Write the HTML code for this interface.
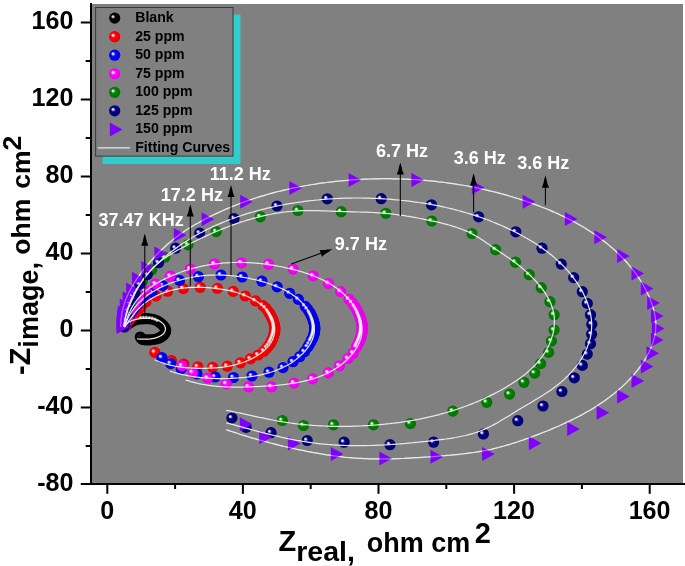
<!DOCTYPE html>
<html lang="en"><head><meta charset="utf-8"><title>Nyquist plot</title>
<style>
html,body{margin:0;padding:0;background:#fff;}
body{width:685px;height:566px;overflow:hidden;}
svg{display:block;}
text{font-family:"Liberation Sans",Arial,Helvetica,sans-serif;font-weight:bold;}
.tk{font-size:26.3px;fill:#000;}
.ti{font-size:29px;fill:#000;}.tj{font-size:26.5px;fill:#000;}
.lg{font-size:15.5px;fill:#000;}
.an{font-size:19px;fill:#fff;}
.ax{stroke:#000;stroke-width:2;fill:none;shape-rendering:crispEdges;}
.fit{stroke:#e9e9e9;stroke-width:1.2;fill:none;}
.ar{stroke:#000;stroke-width:1.05;fill:none;}
</style></head><body>
<svg width="685" height="566" viewBox="0 0 685 566">
<defs>
<radialGradient id="gk" cx="0.5" cy="0.5" r="0.5" fx="0.36" fy="0.38"><stop offset="0" stop-color="#202020"/><stop offset="0.45" stop-color="#000000"/><stop offset="1" stop-color="#000000"/></radialGradient>
<radialGradient id="gr" cx="0.5" cy="0.5" r="0.5" fx="0.36" fy="0.38"><stop offset="0" stop-color="#ff6a6a"/><stop offset="0.45" stop-color="#ff0000"/><stop offset="1" stop-color="#e40000"/></radialGradient>
<radialGradient id="gb" cx="0.5" cy="0.5" r="0.5" fx="0.36" fy="0.38"><stop offset="0" stop-color="#6a6aff"/><stop offset="0.45" stop-color="#0000ff"/><stop offset="1" stop-color="#0000dc"/></radialGradient>
<radialGradient id="gm" cx="0.5" cy="0.5" r="0.5" fx="0.36" fy="0.38"><stop offset="0" stop-color="#ff80ff"/><stop offset="0.45" stop-color="#ff00ff"/><stop offset="1" stop-color="#e400e4"/></radialGradient>
<radialGradient id="gg" cx="0.5" cy="0.5" r="0.5" fx="0.36" fy="0.38"><stop offset="0" stop-color="#50b450"/><stop offset="0.45" stop-color="#008000"/><stop offset="1" stop-color="#007200"/></radialGradient>
<radialGradient id="gn" cx="0.5" cy="0.5" r="0.5" fx="0.36" fy="0.38"><stop offset="0" stop-color="#5a5ac0"/><stop offset="0.45" stop-color="#000080"/><stop offset="1" stop-color="#000072"/></radialGradient>
<radialGradient id="gh" cx="0.5" cy="0.5" r="0.5"><stop offset="0" stop-color="#fff" stop-opacity="1"/><stop offset="0.3" stop-color="#fff" stop-opacity="0.8"/><stop offset="1" stop-color="#fff" stop-opacity="0"/></radialGradient>
<circle id="sk" r="5.6" fill="url(#gk)"/>
<circle id="sr" r="5.6" fill="url(#gr)"/>
<circle id="sb" r="5.6" fill="url(#gb)"/>
<circle id="sm" r="5.6" fill="url(#gm)"/>
<circle id="sg" r="5.6" fill="url(#gg)"/>
<circle id="sn" r="5.6" fill="url(#gn)"/>
<circle id="hl" cx="-1.7" cy="-1.4" r="2.2" fill="url(#gh)"/>
<path id="sp" d="M-6.2 -7 L6.4 0 L-6.2 7 Z" fill="#8000ff"/>
<path id="ah" d="M0 0 L-1.3 4.5 L-2 8 L-3.6 12.2 L3.6 12.2 L2 8 L1.3 4.5 Z" fill="#000"/>
</defs>
<rect x="0" y="0" width="685" height="566" fill="#fff"/>
<rect x="91" y="4" width="592" height="480" fill="#808080"/>
<rect x="102.5" y="14.6" width="138" height="149.4" fill="#33cccc"/>
<rect x="95.6" y="7.5" width="137.4" height="148.6" fill="#808080" stroke="#3a3a3a" stroke-width="1"/>
<g>
<use href="#sk" x="127" y="325"/><use href="#sk" x="128.9" y="323.4"/><use href="#sk" x="131" y="322"/><use href="#sk" x="132.9" y="320.9"/><use href="#sk" x="135" y="320"/><use href="#sk" x="137.2" y="319.4"/><use href="#sk" x="139.5" y="319"/><use href="#sk" x="142.2" y="318.8"/><use href="#sk" x="145" y="318.7"/><use href="#sk" x="148" y="318.7"/><use href="#sk" x="151" y="319"/><use href="#sk" x="153.8" y="319.5"/><use href="#sk" x="156.5" y="320.5"/><use href="#sk" x="158.8" y="321.8"/><use href="#sk" x="161" y="323.5"/><use href="#sk" x="162.8" y="325.1"/><use href="#sk" x="164.3" y="327"/><use href="#sk" x="165.3" y="328.7"/><use href="#sk" x="165.7" y="330.5"/><use href="#sk" x="165.4" y="332.3"/><use href="#sk" x="164.5" y="334"/><use href="#sk" x="162.9" y="335.7"/><use href="#sk" x="161" y="337"/><use href="#sk" x="158.6" y="338.2"/><use href="#sk" x="156" y="339"/><use href="#sk" x="153" y="339.5"/><use href="#sk" x="150" y="339.8"/><use href="#sk" x="147.5" y="339.9"/><use href="#sk" x="145" y="339.8"/><use href="#sk" x="143.1" y="339.5"/><use href="#sk" x="141.5" y="338.8"/><use href="#sk" x="140.3" y="337"/>
<use href="#hl" x="131" y="322"/><use href="#hl" x="132.9" y="320.9"/><use href="#hl" x="135" y="320"/><use href="#hl" x="137.2" y="319.4"/><use href="#hl" x="139.5" y="319"/><use href="#hl" x="142.2" y="318.8"/><use href="#hl" x="145" y="318.7"/><use href="#hl" x="148" y="318.7"/><use href="#hl" x="151" y="319"/><use href="#hl" x="153.8" y="319.5"/><use href="#hl" x="156.5" y="320.5"/><use href="#hl" x="158.8" y="321.8"/>
</g>
<g>
<use href="#sr" x="125" y="327"/><use href="#sr" x="125.4" y="326"/><use href="#sr" x="126" y="325"/><use href="#sr" x="126.5" y="324"/><use href="#sr" x="127.1" y="323"/><use href="#sr" x="127.8" y="322"/><use href="#sr" x="128.5" y="321"/><use href="#sr" x="129.3" y="319.9"/><use href="#sr" x="130.1" y="318.8"/><use href="#sr" x="131" y="317.8"/><use href="#sr" x="132.1" y="316.5"/><use href="#sr" x="133.3" y="315.3"/><use href="#sr" x="134.5" y="314"/><use href="#sr" x="136.5" y="311.8"/><use href="#sr" x="138.5" y="309.5"/><use href="#sr" x="140.1" y="307.5"/><use href="#sr" x="141.8" y="305.6"/><use href="#sr" x="146" y="301.7"/><use href="#sr" x="156" y="296"/><use href="#sr" x="167.7" y="291.2"/><use href="#sr" x="183.4" y="288.6"/><use href="#sr" x="200.2" y="287.3"/><use href="#sr" x="217.4" y="288.4"/><use href="#sr" x="233.3" y="291.4"/><use href="#sr" x="245.2" y="296"/><use href="#sr" x="255.4" y="300.8"/><use href="#sr" x="263" y="305.6"/><use href="#sr" x="265.7" y="308.1"/><use href="#sr" x="268" y="311"/><use href="#sr" x="269.1" y="312.7"/><use href="#sr" x="270.2" y="314.4"/><use href="#sr" x="271.1" y="316.2"/><use href="#sr" x="272" y="318"/><use href="#sr" x="272.7" y="319.6"/><use href="#sr" x="273.4" y="321.2"/><use href="#sr" x="273.9" y="322.9"/><use href="#sr" x="274.4" y="324.6"/><use href="#sr" x="274.7" y="326.3"/><use href="#sr" x="274.9" y="328"/><use href="#sr" x="274.9" y="329.5"/><use href="#sr" x="274.8" y="331"/><use href="#sr" x="274.5" y="332.5"/><use href="#sr" x="274.2" y="334"/><use href="#sr" x="273.8" y="335.5"/><use href="#sr" x="273.3" y="337"/><use href="#sr" x="272.7" y="338.7"/><use href="#sr" x="272" y="340.3"/><use href="#sr" x="271.2" y="342"/><use href="#sr" x="270.3" y="343.5"/><use href="#sr" x="268.7" y="345.8"/><use href="#sr" x="267" y="348"/><use href="#sr" x="264" y="351.2"/><use href="#sr" x="258.2" y="355"/><use href="#sr" x="250.5" y="358.8"/><use href="#sr" x="240.5" y="362.8"/><use href="#sr" x="227.3" y="366.2"/><use href="#sr" x="212.6" y="367.3"/><use href="#sr" x="197.8" y="366.8"/><use href="#sr" x="183.8" y="364.2"/><use href="#sr" x="171.5" y="360.7"/><use href="#sr" x="154.9" y="352.4"/>
<use href="#hl" x="125" y="327"/><use href="#hl" x="125.4" y="326"/><use href="#hl" x="126" y="325"/><use href="#hl" x="126.5" y="324"/><use href="#hl" x="127.1" y="323"/><use href="#hl" x="127.8" y="322"/><use href="#hl" x="128.5" y="321"/><use href="#hl" x="129.3" y="319.9"/><use href="#hl" x="130.1" y="318.8"/><use href="#hl" x="131" y="317.8"/><use href="#hl" x="132.1" y="316.5"/><use href="#hl" x="133.3" y="315.3"/><use href="#hl" x="134.5" y="314"/><use href="#hl" x="136.5" y="311.8"/><use href="#hl" x="138.5" y="309.5"/><use href="#hl" x="140.1" y="307.5"/><use href="#hl" x="141.8" y="305.6"/><use href="#hl" x="146" y="301.7"/><use href="#hl" x="156" y="296"/><use href="#hl" x="167.7" y="291.2"/><use href="#hl" x="183.4" y="288.6"/><use href="#hl" x="200.2" y="287.3"/><use href="#hl" x="217.4" y="288.4"/><use href="#hl" x="233.3" y="291.4"/><use href="#hl" x="245.2" y="296"/><use href="#hl" x="255.4" y="300.8"/><use href="#hl" x="263" y="305.6"/><use href="#hl" x="265.7" y="308.1"/><use href="#hl" x="268" y="311"/><use href="#hl" x="269.1" y="312.7"/><use href="#hl" x="270.2" y="314.4"/><use href="#hl" x="271.1" y="316.2"/><use href="#hl" x="272" y="318"/><use href="#hl" x="272.7" y="319.6"/><use href="#hl" x="273.4" y="321.2"/><use href="#hl" x="273.9" y="322.9"/><use href="#hl" x="274.4" y="324.6"/><use href="#hl" x="274.7" y="326.3"/><use href="#hl" x="274.9" y="328"/><use href="#hl" x="274.9" y="329.5"/><use href="#hl" x="274.8" y="331"/><use href="#hl" x="274.5" y="332.5"/><use href="#hl" x="274.2" y="334"/><use href="#hl" x="273.8" y="335.5"/><use href="#hl" x="273.3" y="337"/><use href="#hl" x="272.7" y="338.7"/><use href="#hl" x="272" y="340.3"/><use href="#hl" x="271.2" y="342"/><use href="#hl" x="270.3" y="343.5"/><use href="#hl" x="268.7" y="345.8"/><use href="#hl" x="267" y="348"/><use href="#hl" x="264" y="351.2"/><use href="#hl" x="258.2" y="355"/><use href="#hl" x="250.5" y="358.8"/><use href="#hl" x="240.5" y="362.8"/><use href="#hl" x="227.3" y="366.2"/><use href="#hl" x="212.6" y="367.3"/><use href="#hl" x="197.8" y="366.8"/><use href="#hl" x="183.8" y="364.2"/><use href="#hl" x="171.5" y="360.7"/><use href="#hl" x="154.9" y="352.4"/>
</g>
<g>
<use href="#sb" x="124.5" y="327"/><use href="#sb" x="124.8" y="325.8"/><use href="#sb" x="125.2" y="324.7"/><use href="#sb" x="125.6" y="323.5"/><use href="#sb" x="126.1" y="322.1"/><use href="#sb" x="126.7" y="320.8"/><use href="#sb" x="127.3" y="319.5"/><use href="#sb" x="128.1" y="318"/><use href="#sb" x="128.9" y="316.5"/><use href="#sb" x="129.8" y="315"/><use href="#sb" x="130.8" y="313.3"/><use href="#sb" x="131.9" y="311.6"/><use href="#sb" x="133" y="310"/><use href="#sb" x="135.2" y="307.2"/><use href="#sb" x="137.5" y="304.5"/><use href="#sb" x="140.4" y="301.4"/><use href="#sb" x="143.5" y="298.5"/><use href="#sb" x="152" y="292.4"/><use href="#sb" x="162.9" y="285.6"/><use href="#sb" x="179.5" y="280.4"/><use href="#sb" x="198.4" y="276.7"/><use href="#sb" x="221" y="275"/><use href="#sb" x="242.2" y="277"/><use href="#sb" x="261.9" y="281.2"/><use href="#sb" x="277.2" y="286.9"/><use href="#sb" x="289.7" y="293.3"/><use href="#sb" x="298.4" y="299.4"/><use href="#sb" x="305.2" y="306.3"/><use href="#sb" x="307.6" y="309.3"/><use href="#sb" x="309.8" y="312.5"/><use href="#sb" x="310.7" y="314.2"/><use href="#sb" x="311.6" y="315.9"/><use href="#sb" x="312.3" y="317.7"/><use href="#sb" x="313" y="319.5"/><use href="#sb" x="313.5" y="320.9"/><use href="#sb" x="313.9" y="322.3"/><use href="#sb" x="314.2" y="323.6"/><use href="#sb" x="314.5" y="325.1"/><use href="#sb" x="314.7" y="326.5"/><use href="#sb" x="314.8" y="327.9"/><use href="#sb" x="314.8" y="329.2"/><use href="#sb" x="314.7" y="330.5"/><use href="#sb" x="314.5" y="331.7"/><use href="#sb" x="314.3" y="333"/><use href="#sb" x="314" y="334.3"/><use href="#sb" x="313.6" y="335.5"/><use href="#sb" x="313.1" y="337"/><use href="#sb" x="312.4" y="338.6"/><use href="#sb" x="311.7" y="340"/><use href="#sb" x="311" y="341.5"/><use href="#sb" x="309.5" y="344.3"/><use href="#sb" x="307.8" y="347"/><use href="#sb" x="304.5" y="351.7"/><use href="#sb" x="299.7" y="356.7"/><use href="#sb" x="293" y="361.7"/><use href="#sb" x="283" y="367.6"/><use href="#sb" x="269" y="372.2"/><use href="#sb" x="252" y="376"/><use href="#sb" x="233.5" y="377.5"/><use href="#sb" x="215.2" y="377"/><use href="#sb" x="196.9" y="373.8"/><use href="#sb" x="181.2" y="368.9"/><use href="#sb" x="170.7" y="363.6"/><use href="#sb" x="161.9" y="357.7"/>
<use href="#hl" x="124.5" y="327"/><use href="#hl" x="124.8" y="325.8"/><use href="#hl" x="125.2" y="324.7"/><use href="#hl" x="125.6" y="323.5"/><use href="#hl" x="126.1" y="322.1"/><use href="#hl" x="126.7" y="320.8"/><use href="#hl" x="127.3" y="319.5"/><use href="#hl" x="128.1" y="318"/><use href="#hl" x="128.9" y="316.5"/><use href="#hl" x="129.8" y="315"/><use href="#hl" x="130.8" y="313.3"/><use href="#hl" x="131.9" y="311.6"/><use href="#hl" x="133" y="310"/><use href="#hl" x="135.2" y="307.2"/><use href="#hl" x="137.5" y="304.5"/><use href="#hl" x="140.4" y="301.4"/><use href="#hl" x="143.5" y="298.5"/><use href="#hl" x="152" y="292.4"/><use href="#hl" x="162.9" y="285.6"/><use href="#hl" x="179.5" y="280.4"/><use href="#hl" x="198.4" y="276.7"/><use href="#hl" x="221" y="275"/><use href="#hl" x="242.2" y="277"/><use href="#hl" x="261.9" y="281.2"/><use href="#hl" x="277.2" y="286.9"/><use href="#hl" x="289.7" y="293.3"/><use href="#hl" x="298.4" y="299.4"/><use href="#hl" x="305.2" y="306.3"/><use href="#hl" x="307.6" y="309.3"/><use href="#hl" x="309.8" y="312.5"/><use href="#hl" x="310.7" y="314.2"/><use href="#hl" x="311.6" y="315.9"/><use href="#hl" x="312.3" y="317.7"/><use href="#hl" x="313" y="319.5"/><use href="#hl" x="313.5" y="320.9"/><use href="#hl" x="313.9" y="322.3"/><use href="#hl" x="314.2" y="323.6"/><use href="#hl" x="314.5" y="325.1"/><use href="#hl" x="314.7" y="326.5"/><use href="#hl" x="314.8" y="327.9"/><use href="#hl" x="314.8" y="329.2"/><use href="#hl" x="314.7" y="330.5"/><use href="#hl" x="314.5" y="331.7"/><use href="#hl" x="314.3" y="333"/><use href="#hl" x="314" y="334.3"/><use href="#hl" x="313.6" y="335.5"/><use href="#hl" x="313.1" y="337"/><use href="#hl" x="312.4" y="338.6"/><use href="#hl" x="311.7" y="340"/><use href="#hl" x="311" y="341.5"/><use href="#hl" x="309.5" y="344.3"/><use href="#hl" x="307.8" y="347"/><use href="#hl" x="304.5" y="351.7"/><use href="#hl" x="299.7" y="356.7"/><use href="#hl" x="293" y="361.7"/><use href="#hl" x="283" y="367.6"/><use href="#hl" x="269" y="372.2"/><use href="#hl" x="252" y="376"/><use href="#hl" x="233.5" y="377.5"/><use href="#hl" x="215.2" y="377"/><use href="#hl" x="196.9" y="373.8"/><use href="#hl" x="181.2" y="368.9"/><use href="#hl" x="170.7" y="363.6"/><use href="#hl" x="161.9" y="357.7"/>
</g>
<g>
<use href="#sm" x="124.3" y="327"/><use href="#sm" x="124.5" y="325.7"/><use href="#sm" x="124.8" y="324.3"/><use href="#sm" x="125.2" y="323"/><use href="#sm" x="125.6" y="321.7"/><use href="#sm" x="126.1" y="320.3"/><use href="#sm" x="126.6" y="319"/><use href="#sm" x="127.2" y="317.5"/><use href="#sm" x="127.9" y="316"/><use href="#sm" x="128.6" y="314.5"/><use href="#sm" x="129.4" y="312.8"/><use href="#sm" x="130.3" y="311.1"/><use href="#sm" x="131.2" y="309.5"/><use href="#sm" x="133" y="306.5"/><use href="#sm" x="134.8" y="303.5"/><use href="#sm" x="137" y="300.1"/><use href="#sm" x="139.5" y="296.8"/><use href="#sm" x="145.5" y="290.9"/><use href="#sm" x="155.7" y="284"/><use href="#sm" x="170.4" y="276.2"/><use href="#sm" x="190.4" y="269"/><use href="#sm" x="214.5" y="264"/><use href="#sm" x="241.4" y="262.9"/><use href="#sm" x="268.5" y="264.3"/><use href="#sm" x="293.1" y="269.1"/><use href="#sm" x="313.2" y="275.9"/><use href="#sm" x="328.5" y="283.5"/><use href="#sm" x="340.6" y="291.5"/><use href="#sm" x="349" y="299.4"/><use href="#sm" x="352.1" y="302.8"/><use href="#sm" x="354.8" y="306.5"/><use href="#sm" x="356.2" y="308.8"/><use href="#sm" x="357.5" y="311.1"/><use href="#sm" x="358.6" y="313.5"/><use href="#sm" x="359.2" y="315"/><use href="#sm" x="359.8" y="316.4"/><use href="#sm" x="360.4" y="317.9"/><use href="#sm" x="360.9" y="319.5"/><use href="#sm" x="361.3" y="321"/><use href="#sm" x="361.6" y="322.1"/><use href="#sm" x="361.8" y="323.3"/><use href="#sm" x="362" y="324.5"/><use href="#sm" x="362.1" y="325.6"/><use href="#sm" x="362.2" y="326.8"/><use href="#sm" x="362.2" y="328"/><use href="#sm" x="362.2" y="329.3"/><use href="#sm" x="362.1" y="330.5"/><use href="#sm" x="362" y="331.8"/><use href="#sm" x="361.8" y="333"/><use href="#sm" x="361.6" y="334.3"/><use href="#sm" x="361.3" y="335.5"/><use href="#sm" x="360.9" y="336.8"/><use href="#sm" x="360.5" y="338.2"/><use href="#sm" x="360.1" y="339.5"/><use href="#sm" x="359.5" y="340.7"/><use href="#sm" x="359" y="342"/><use href="#sm" x="358.2" y="343.7"/><use href="#sm" x="357.4" y="345.3"/><use href="#sm" x="356.6" y="347"/><use href="#sm" x="353.3" y="353.2"/><use href="#sm" x="348" y="358.5"/><use href="#sm" x="339.5" y="365.8"/><use href="#sm" x="328.4" y="372.9"/><use href="#sm" x="312.6" y="378.9"/><use href="#sm" x="294" y="383.1"/><use href="#sm" x="271.5" y="386.9"/><use href="#sm" x="248.6" y="386.9"/><use href="#sm" x="226.2" y="383.8"/><use href="#sm" x="207.7" y="378.2"/><use href="#sm" x="192.6" y="372.6"/><use href="#sm" x="182" y="365.9"/>
<use href="#hl" x="124.3" y="327"/><use href="#hl" x="124.5" y="325.7"/><use href="#hl" x="124.8" y="324.3"/><use href="#hl" x="125.2" y="323"/><use href="#hl" x="125.6" y="321.7"/><use href="#hl" x="126.1" y="320.3"/><use href="#hl" x="126.6" y="319"/><use href="#hl" x="127.2" y="317.5"/><use href="#hl" x="127.9" y="316"/><use href="#hl" x="128.6" y="314.5"/><use href="#hl" x="129.4" y="312.8"/><use href="#hl" x="130.3" y="311.1"/><use href="#hl" x="131.2" y="309.5"/><use href="#hl" x="133" y="306.5"/><use href="#hl" x="134.8" y="303.5"/><use href="#hl" x="137" y="300.1"/><use href="#hl" x="139.5" y="296.8"/><use href="#hl" x="145.5" y="290.9"/><use href="#hl" x="155.7" y="284"/><use href="#hl" x="170.4" y="276.2"/><use href="#hl" x="190.4" y="269"/><use href="#hl" x="214.5" y="264"/><use href="#hl" x="241.4" y="262.9"/><use href="#hl" x="268.5" y="264.3"/><use href="#hl" x="293.1" y="269.1"/><use href="#hl" x="313.2" y="275.9"/><use href="#hl" x="328.5" y="283.5"/><use href="#hl" x="340.6" y="291.5"/><use href="#hl" x="349" y="299.4"/><use href="#hl" x="352.1" y="302.8"/><use href="#hl" x="354.8" y="306.5"/><use href="#hl" x="356.2" y="308.8"/><use href="#hl" x="357.5" y="311.1"/><use href="#hl" x="358.6" y="313.5"/><use href="#hl" x="359.2" y="315"/><use href="#hl" x="359.8" y="316.4"/><use href="#hl" x="360.4" y="317.9"/><use href="#hl" x="360.9" y="319.5"/><use href="#hl" x="361.3" y="321"/><use href="#hl" x="361.6" y="322.1"/><use href="#hl" x="361.8" y="323.3"/><use href="#hl" x="362" y="324.5"/><use href="#hl" x="362.1" y="325.6"/><use href="#hl" x="362.2" y="326.8"/><use href="#hl" x="362.2" y="328"/><use href="#hl" x="362.2" y="329.3"/><use href="#hl" x="362.1" y="330.5"/><use href="#hl" x="362" y="331.8"/><use href="#hl" x="361.8" y="333"/><use href="#hl" x="361.6" y="334.3"/><use href="#hl" x="361.3" y="335.5"/><use href="#hl" x="360.9" y="336.8"/><use href="#hl" x="360.5" y="338.2"/><use href="#hl" x="360.1" y="339.5"/><use href="#hl" x="359.5" y="340.7"/><use href="#hl" x="359" y="342"/><use href="#hl" x="358.2" y="343.7"/><use href="#hl" x="357.4" y="345.3"/><use href="#hl" x="356.6" y="347"/><use href="#hl" x="353.3" y="353.2"/><use href="#hl" x="348" y="358.5"/><use href="#hl" x="339.5" y="365.8"/><use href="#hl" x="328.4" y="372.9"/><use href="#hl" x="312.6" y="378.9"/><use href="#hl" x="294" y="383.1"/><use href="#hl" x="271.5" y="386.9"/><use href="#hl" x="248.6" y="386.9"/><use href="#hl" x="226.2" y="383.8"/><use href="#hl" x="207.7" y="378.2"/><use href="#hl" x="192.6" y="372.6"/><use href="#hl" x="182" y="365.9"/>
</g>
<g>
<use href="#sg" x="124" y="326.8"/><use href="#sg" x="124.2" y="325.4"/><use href="#sg" x="124.4" y="323.9"/><use href="#sg" x="124.6" y="322.5"/><use href="#sg" x="124.9" y="321"/><use href="#sg" x="125.2" y="319.5"/><use href="#sg" x="125.5" y="318"/><use href="#sg" x="125.9" y="316.3"/><use href="#sg" x="126.3" y="314.7"/><use href="#sg" x="126.8" y="313"/><use href="#sg" x="127.3" y="311.3"/><use href="#sg" x="127.9" y="309.7"/><use href="#sg" x="128.5" y="308"/><use href="#sg" x="129.7" y="305"/><use href="#sg" x="131" y="302"/><use href="#sg" x="133.2" y="297.5"/><use href="#sg" x="135.5" y="293"/><use href="#sg" x="142.5" y="281"/><use href="#sg" x="151.7" y="269.8"/><use href="#sg" x="164.8" y="257.3"/><use href="#sg" x="188" y="244.8"/><use href="#sg" x="216.2" y="231.6"/><use href="#sg" x="260.3" y="216.8"/><use href="#sg" x="297.9" y="210.5"/><use href="#sg" x="341.2" y="211.7"/><use href="#sg" x="385.8" y="213.3"/><use href="#sg" x="431.8" y="221"/><use href="#sg" x="471.9" y="233.5"/><use href="#sg" x="495.6" y="249.7"/><use href="#sg" x="515.5" y="262.2"/><use href="#sg" x="529.2" y="274.7"/><use href="#sg" x="541.2" y="287.7"/><use href="#sg" x="549.9" y="301.7"/><use href="#sg" x="554.1" y="314.7"/><use href="#sg" x="554.1" y="330.1"/><use href="#sg" x="551.4" y="341"/><use href="#sg" x="548.6" y="352.4"/><use href="#sg" x="540.6" y="363.6"/><use href="#sg" x="534.7" y="373.1"/><use href="#sg" x="523.9" y="382.3"/><use href="#sg" x="509.6" y="394.1"/><use href="#sg" x="486.7" y="402.3"/><use href="#sg" x="452.8" y="411.1"/><use href="#sg" x="410.4" y="423.5"/><use href="#sg" x="373.5" y="424.8"/><use href="#sg" x="333.4" y="424.8"/><use href="#sg" x="303.5" y="425.5"/><use href="#sg" x="282.3" y="420.5"/>
<use href="#hl" x="124" y="326.8"/><use href="#hl" x="124.2" y="325.4"/><use href="#hl" x="124.4" y="323.9"/><use href="#hl" x="124.6" y="322.5"/><use href="#hl" x="124.9" y="321"/><use href="#hl" x="125.2" y="319.5"/><use href="#hl" x="125.5" y="318"/><use href="#hl" x="125.9" y="316.3"/><use href="#hl" x="126.3" y="314.7"/><use href="#hl" x="126.8" y="313"/><use href="#hl" x="127.3" y="311.3"/><use href="#hl" x="127.9" y="309.7"/><use href="#hl" x="128.5" y="308"/><use href="#hl" x="129.7" y="305"/><use href="#hl" x="131" y="302"/><use href="#hl" x="133.2" y="297.5"/><use href="#hl" x="135.5" y="293"/><use href="#hl" x="142.5" y="281"/><use href="#hl" x="151.7" y="269.8"/><use href="#hl" x="164.8" y="257.3"/><use href="#hl" x="188" y="244.8"/><use href="#hl" x="216.2" y="231.6"/><use href="#hl" x="260.3" y="216.8"/><use href="#hl" x="297.9" y="210.5"/><use href="#hl" x="341.2" y="211.7"/><use href="#hl" x="385.8" y="213.3"/><use href="#hl" x="431.8" y="221"/><use href="#hl" x="471.9" y="233.5"/><use href="#hl" x="495.6" y="249.7"/><use href="#hl" x="515.5" y="262.2"/><use href="#hl" x="529.2" y="274.7"/><use href="#hl" x="541.2" y="287.7"/><use href="#hl" x="549.9" y="301.7"/><use href="#hl" x="554.1" y="314.7"/><use href="#hl" x="554.1" y="330.1"/><use href="#hl" x="551.4" y="341"/><use href="#hl" x="548.6" y="352.4"/><use href="#hl" x="540.6" y="363.6"/><use href="#hl" x="534.7" y="373.1"/><use href="#hl" x="523.9" y="382.3"/><use href="#hl" x="509.6" y="394.1"/><use href="#hl" x="486.7" y="402.3"/><use href="#hl" x="452.8" y="411.1"/><use href="#hl" x="410.4" y="423.5"/><use href="#hl" x="373.5" y="424.8"/><use href="#hl" x="333.4" y="424.8"/><use href="#hl" x="303.5" y="425.5"/><use href="#hl" x="282.3" y="420.5"/>
</g>
<g>
<use href="#sn" x="124" y="326.5"/><use href="#sn" x="124.2" y="325"/><use href="#sn" x="124.3" y="323.5"/><use href="#sn" x="124.5" y="322"/><use href="#sn" x="124.7" y="320.3"/><use href="#sn" x="125" y="318.7"/><use href="#sn" x="125.3" y="317"/><use href="#sn" x="125.7" y="315.3"/><use href="#sn" x="126.1" y="313.7"/><use href="#sn" x="126.5" y="312"/><use href="#sn" x="127" y="310.3"/><use href="#sn" x="127.5" y="308.7"/><use href="#sn" x="128" y="307"/><use href="#sn" x="129.1" y="304"/><use href="#sn" x="130.3" y="301"/><use href="#sn" x="132.3" y="297"/><use href="#sn" x="134.5" y="293"/><use href="#sn" x="139.6" y="284.3"/><use href="#sn" x="147.3" y="274.6"/><use href="#sn" x="158.6" y="262.7"/><use href="#sn" x="175.6" y="248.2"/><use href="#sn" x="199.7" y="233.1"/><use href="#sn" x="234" y="218.5"/><use href="#sn" x="277" y="206"/><use href="#sn" x="327.3" y="198.8"/><use href="#sn" x="381.2" y="198.7"/><use href="#sn" x="431.5" y="204.8"/><use href="#sn" x="478.6" y="216.8"/><use href="#sn" x="515.8" y="231.8"/><use href="#sn" x="542" y="248.2"/><use href="#sn" x="561.2" y="264.1"/><use href="#sn" x="573.7" y="277.6"/><use href="#sn" x="582.3" y="291.7"/><use href="#sn" x="587.3" y="303.4"/><use href="#sn" x="590.5" y="314.7"/><use href="#sn" x="591.8" y="324.2"/><use href="#sn" x="591.6" y="334.2"/><use href="#sn" x="590.5" y="343.7"/><use href="#sn" x="587.3" y="354.1"/><use href="#sn" x="582.3" y="365.4"/><use href="#sn" x="574.3" y="377.8"/><use href="#sn" x="561.9" y="391.5"/><use href="#sn" x="543" y="406"/><use href="#sn" x="517.8" y="420.7"/><use href="#sn" x="483.4" y="434"/><use href="#sn" x="433.6" y="442.2"/><use href="#sn" x="390" y="444.7"/><use href="#sn" x="344.1" y="442.2"/><use href="#sn" x="307.2" y="440.5"/><use href="#sn" x="271" y="432.7"/><use href="#sn" x="246.1" y="427.3"/><use href="#sn" x="231.9" y="418"/>
<use href="#hl" x="124" y="326.5"/><use href="#hl" x="124.2" y="325"/><use href="#hl" x="124.3" y="323.5"/><use href="#hl" x="124.5" y="322"/><use href="#hl" x="124.7" y="320.3"/><use href="#hl" x="125" y="318.7"/><use href="#hl" x="125.3" y="317"/><use href="#hl" x="125.7" y="315.3"/><use href="#hl" x="126.1" y="313.7"/><use href="#hl" x="126.5" y="312"/><use href="#hl" x="127" y="310.3"/><use href="#hl" x="127.5" y="308.7"/><use href="#hl" x="128" y="307"/><use href="#hl" x="129.1" y="304"/><use href="#hl" x="130.3" y="301"/><use href="#hl" x="132.3" y="297"/><use href="#hl" x="134.5" y="293"/><use href="#hl" x="139.6" y="284.3"/><use href="#hl" x="147.3" y="274.6"/><use href="#hl" x="158.6" y="262.7"/><use href="#hl" x="175.6" y="248.2"/><use href="#hl" x="199.7" y="233.1"/><use href="#hl" x="234" y="218.5"/><use href="#hl" x="277" y="206"/><use href="#hl" x="327.3" y="198.8"/><use href="#hl" x="381.2" y="198.7"/><use href="#hl" x="431.5" y="204.8"/><use href="#hl" x="478.6" y="216.8"/><use href="#hl" x="515.8" y="231.8"/><use href="#hl" x="542" y="248.2"/><use href="#hl" x="561.2" y="264.1"/><use href="#hl" x="573.7" y="277.6"/><use href="#hl" x="582.3" y="291.7"/><use href="#hl" x="587.3" y="303.4"/><use href="#hl" x="590.5" y="314.7"/><use href="#hl" x="591.8" y="324.2"/><use href="#hl" x="591.6" y="334.2"/><use href="#hl" x="590.5" y="343.7"/><use href="#hl" x="587.3" y="354.1"/><use href="#hl" x="582.3" y="365.4"/><use href="#hl" x="574.3" y="377.8"/><use href="#hl" x="561.9" y="391.5"/><use href="#hl" x="543" y="406"/><use href="#hl" x="517.8" y="420.7"/><use href="#hl" x="483.4" y="434"/><use href="#hl" x="433.6" y="442.2"/><use href="#hl" x="390" y="444.7"/><use href="#hl" x="344.1" y="442.2"/><use href="#hl" x="307.2" y="440.5"/><use href="#hl" x="271" y="432.7"/><use href="#hl" x="246.1" y="427.3"/><use href="#hl" x="231.9" y="418"/>
</g>
<g>
<path class="fit" d="M120.8 327 L120.8 324.1 L120.9 321.2 L121.2 318.3 L121.6 315.5 L122 312.6 L122.6 309.8 L123.4 307 L124.2 304.3 L125.1 301.5 L126.1 298.8 L127.2 296.2 L128.4 293.6 L129.6 291 L131 288.5 L132.4 286 L133.9 283.5 L135.4 281.1 L137 278.7 L138.6 276.3 L140.3 274 L142.1 271.7 L143.9 269.4 L145.7 267.2 L147.5 265 L149.4 262.7 L151.3 260.6 L153.2 258.4 L155.1 256.3 L157.1 254.2 L159.1 252.2 L161.2 250.1 L163.3 248.2 L165.4 246.2 L167.5 244.3 L169.7 242.4 L171.9 240.6 L174.1 238.7 L176.4 237 L178.7 235.3 L181 233.6 L183.4 231.9 L185.8 230.3 L188.2 228.8 L190.7 227.2 L193.2 225.7 L195.7 224.3 L198.2 222.9 L200.7 221.5 L203.3 220.1 L205.8 218.7 L208.4 217.4 L211 216.1 L213.6 214.8 L216.2 213.6 L218.8 212.4 L221.4 211.2 L224 210 L226.7 208.9 L229.3 207.7 L232 206.6 L234.7 205.6 L237.3 204.5 L240 203.5 L242.7 202.5 L245.4 201.5 L248.1 200.5 L250.9 199.6 L253.6 198.7 L256.3 197.8 L259.1 196.9 L261.8 196.1 L264.6 195.3 L267.3 194.5 L270.1 193.7 L272.9 192.9 L275.7 192.2 L278.4 191.5 L281.2 190.8 L284 190.1 L286.9 189.5 L289.7 188.8 L292.5 188.2 L295.3 187.6 L298.1 187.1 L301 186.5 L303.8 186 L306.6 185.5 L309.5 185 L312.3 184.5 L315.2 184.1 L318 183.6 L320.9 183.2 L323.7 182.8 L326.6 182.5 L329.5 182.1 L332.3 181.8 L335.2 181.4 L338.1 181.1 L341 180.9 L343.8 180.6 L346.7 180.4 L349.6 180.1 L352.5 179.9 L355.4 179.7 L358.2 179.5 L361.1 179.4 L364 179.2 L366.9 179.1 L369.8 179 L372.7 178.9 L375.5 178.8 L378.4 178.8 L381.3 178.7 L384.2 178.7 L387.1 178.7 L390 178.7 L392.8 178.8 L395.7 178.8 L398.6 178.9 L401.5 179 L404.4 179.1 L407.3 179.2 L410.1 179.4 L413 179.5 L415.9 179.7 L418.8 179.9 L421.6 180.1 L424.5 180.3 L427.4 180.6 L430.2 180.8 L433.1 181.1 L436 181.4 L438.8 181.8 L441.7 182.1 L444.5 182.5 L447.4 182.9 L450.2 183.3 L453.1 183.7 L455.9 184.1 L458.8 184.6 L461.6 185 L464.5 185.5 L467.3 186 L470.1 186.6 L473 187.1 L475.8 187.7 L478.6 188.3 L481.4 188.9 L484.2 189.5 L487 190.2 L489.8 190.8 L492.6 191.5 L495.4 192.2 L498.2 192.9 L501 193.7 L503.8 194.4 L506.6 195.2 L509.3 196 L512.1 196.8 L514.9 197.7 L517.6 198.5 L520.4 199.4 L523.1 200.3 L525.9 201.2 L528.6 202.2 L531.3 203.1 L534.1 204.1 L536.8 205.1 L539.5 206.1 L542.2 207.2 L544.9 208.2 L547.5 209.3 L550.2 210.4 L552.9 211.6 L555.5 212.8 L558.2 213.9 L560.8 215.2 L563.4 216.4 L566 217.7 L568.6 219 L571.1 220.3 L573.7 221.6 L576.2 223 L578.7 224.4 L581.2 225.8 L583.7 227.3 L586.1 228.8 L588.5 230.3 L591 231.9 L593.3 233.5 L595.7 235.1 L598.1 236.8 L600.4 238.5 L602.7 240.2 L605 242 L607.2 243.8 L609.4 245.6 L611.6 247.5 L613.8 249.4 L615.9 251.3 L618 253.3 L620 255.3 L622 257.3 L624 259.4 L626 261.5 L627.9 263.7 L629.7 265.9 L631.6 268.1 L633.3 270.4 L635.1 272.7 L636.7 275 L638.4 277.4 L640 279.8 L641.5 282.3 L643 284.8 L644.4 287.3 L645.8 289.9 L647.1 292.5 L648.4 295.2 L649.6 297.9 L650.7 300.6 L651.7 303.3 L652.6 306.1 L653.5 308.9 L654.2 311.7 L654.8 314.5 L655.2 317.3 L655.6 320.1 L655.8 322.9 L655.8 325.7 L655.7 328.6 L655.5 331.4 L655.1 334.1 L654.5 336.9 L653.8 339.7 L653 342.4 L652 345.1 L651 347.8 L649.8 350.4 L648.6 353.1 L647.2 355.6 L645.8 358.2 L644.3 360.7 L642.7 363.1 L641 365.5 L639.3 367.9 L637.6 370.2 L635.7 372.4 L633.9 374.7 L631.9 376.8 L630 379 L627.9 381.1 L625.9 383.1 L623.8 385.1 L621.7 387.1 L619.5 389 L617.3 390.9 L615.1 392.8 L612.9 394.6 L610.6 396.3 L608.3 398.1 L606 399.8 L603.6 401.4 L601.3 403 L598.9 404.6 L596.5 406.2 L594.1 407.7 L591.6 409.2 L589.2 410.7 L586.7 412.1 L584.2 413.5 L581.7 414.9 L579.1 416.2 L576.6 417.5 L574 418.8 L571.4 420.1 L568.8 421.4 L566.2 422.6 L563.6 423.8 L561 425 L558.4 426.2 L555.7 427.3 L553 428.4 L550.4 429.6 L547.7 430.7 L545 431.7 L542.3 432.8 L539.6 433.9 L536.9 434.9 L534.2 435.9 L531.5 437 L528.8 438 L526.1 438.9 L523.4 439.9 L520.6 440.8 L517.9 441.8 L515.2 442.7 L512.4 443.5 L509.7 444.4 L506.9 445.2 L504.1 446 L501.3 446.7 L498.6 447.5 L495.8 448.2 L493 448.8 L490.2 449.5 L487.4 450.1 L484.6 450.6 L481.7 451.2 L478.9 451.6 L476.1 452.1 L473.2 452.5 L470.4 452.9 L467.5 453.3 L464.7 453.7 L461.8 454 L459 454.3 L456.1 454.6 L453.2 454.9 L450.4 455.2 L447.5 455.4 L444.6 455.7 L441.7 455.9 L438.9 456.1 L436 456.3 L433.1 456.6 L430.2 456.8 L427.3 457 L424.5 457.2 L421.6 457.4 L418.7 457.6 L415.8 457.7 L412.9 457.9 L410 458.1 L407.2 458.2 L404.3 458.4 L401.4 458.5 L398.5 458.6 L395.6 458.7 L392.7 458.8 L389.9 458.9 L387 458.9 L384.1 458.9 L381.2 459 L378.3 458.9 L375.5 458.9 L372.6 458.9 L369.7 458.8 L366.8 458.7 L364 458.6 L361.1 458.4 L358.2 458.3 L355.3 458.1 L352.5 457.9 L349.6 457.6 L346.8 457.4 L343.9 457.1 L341 456.7 L338.2 456.4 L335.3 456 L332.5 455.6 L329.6 455.2 L326.8 454.8 L323.9 454.3 L321.1 453.9 L318.2 453.4 L315.4 452.9 L312.5 452.4 L309.7 451.8 L306.9 451.3 L304.1 450.7 L301.2 450.2 L298.4 449.6 L295.6 449 L292.8 448.4 L289.9 447.7 L287.1 447.1 L284.3 446.5 L281.5 445.8 L278.7 445.1 L275.9 444.4 L273.1 443.7 L270.3 443 L267.6 442.2 L264.8 441.5 L262 440.7 L259.2 440 L256.4 439.2 L253.7 438.4 L250.9 437.6 L248.1 436.7 L245.4 435.9 L242.6 435.1 L239.9 434.2 L237.1 433.3 L234.4 432.4 L231.7 431.5 L228.9 430.6 L226.2 429.7"/>
<use href="#sp" x="122.9" y="327"/><use href="#sp" x="122.9" y="325.6"/><use href="#sp" x="122.9" y="324"/><use href="#sp" x="123" y="322.2"/><use href="#sp" x="123.1" y="320.2"/><use href="#sp" x="123.3" y="317.9"/><use href="#sp" x="123.6" y="315.5"/><use href="#sp" x="124.1" y="312.6"/><use href="#sp" x="125.9" y="305.6"/><use href="#sp" x="128.8" y="298.3"/><use href="#sp" x="132.4" y="289.6"/><use href="#sp" x="138.2" y="278.7"/><use href="#sp" x="147.6" y="267.9"/><use href="#sp" x="160.6" y="253.5"/><use href="#sp" x="180.1" y="235"/><use href="#sp" x="207.8" y="219.3"/><use href="#sp" x="246.4" y="201.8"/><use href="#sp" x="295.5" y="187.9"/><use href="#sp" x="354.8" y="179.9"/><use href="#sp" x="417.6" y="179.9"/><use href="#sp" x="478" y="187.4"/><use href="#sp" x="528.9" y="201.8"/><use href="#sp" x="571.1" y="219"/><use href="#sp" x="600.6" y="237.3"/><use href="#sp" x="623.3" y="256.1"/><use href="#sp" x="637.7" y="273.5"/><use href="#sp" x="647" y="288.5"/><use href="#sp" x="653.4" y="302.9"/><use href="#sp" x="657.2" y="315.9"/><use href="#sp" x="658.1" y="328.5"/><use href="#sp" x="657.1" y="340"/><use href="#sp" x="652.7" y="353.2"/><use href="#sp" x="647" y="366.6"/><use href="#sp" x="637.7" y="381.1"/><use href="#sp" x="623.3" y="396.5"/><use href="#sp" x="602.8" y="412.7"/><use href="#sp" x="573.4" y="428.9"/><use href="#sp" x="535" y="443.2"/><use href="#sp" x="488.3" y="453.9"/><use href="#sp" x="436.7" y="456.7"/><use href="#sp" x="385.6" y="458.4"/><use href="#sp" x="337" y="453.9"/><use href="#sp" x="294.1" y="443.5"/><use href="#sp" x="265.4" y="437.2"/><use href="#sp" x="246" y="424.3"/>
</g>
<g class="fit">
<path d="M125.2 325.2 L125.3 325 L125.5 324.9 L125.7 324.7 L125.8 324.6 L126 324.4 L126.1 324.3 L126.3 324.1 L126.5 324 L126.6 323.9 L126.8 323.7 L127 323.6 L127.1 323.5 L127.3 323.3 L127.5 323.2 L127.6 323.1 L127.8 323 L128 322.9 L128.1 322.7 L128.3 322.6 L128.5 322.5 L128.6 322.4 L128.8 322.3 L129 322.2 L129.2 322.1 L129.3 322 L129.5 321.9 L129.7 321.8 L129.9 321.7 L130 321.6 L130.2 321.5 L130.4 321.4 L130.6 321.3 L130.7 321.2 L130.9 321.1 L131.1 321 L131.3 321 L131.4 320.9 L131.6 320.8 L131.8 320.7 L132 320.6 L132.1 320.6 L132.3 320.5 L132.5 320.4 L132.7 320.4 L132.9 320.3 L133 320.2 L133.2 320.1 L133.4 320.1 L133.6 320 L133.8 320 L134 319.9 L134.1 319.8 L134.3 319.8 L134.5 319.7 L134.7 319.7 L134.9 319.6 L135.1 319.6 L135.3 319.5 L135.4 319.5 L135.6 319.4 L135.8 319.4 L136 319.3 L136.2 319.3 L136.4 319.3 L136.6 319.2 L136.8 319.2 L137 319.1 L137.1 319.1 L137.3 319.1 L137.5 319 L137.7 319 L137.9 319 L138.1 318.9 L138.3 318.9 L138.5 318.9 L138.7 318.8 L138.9 318.8 L139.1 318.8 L139.3 318.8 L139.5 318.7 L139.6 318.7 L139.8 318.7 L140 318.7 L140.2 318.6 L140.4 318.6 L140.6 318.6 L140.8 318.6 L141 318.6 L141.2 318.6 L141.4 318.5 L141.6 318.5 L141.8 318.5 L142 318.5 L142.2 318.5 L142.4 318.5 L142.6 318.5 L142.8 318.5 L143 318.4 L143.2 318.4 L143.4 318.4 L143.6 318.4 L143.8 318.4 L144 318.4 L144.2 318.4 L144.4 318.4 L144.6 318.4 L144.8 318.4 L145 318.4 L145.2 318.4 L145.5 318.4 L145.7 318.4 L145.9 318.4 L146.1 318.4 L146.3 318.4 L146.5 318.4 L146.7 318.4 L146.9 318.4 L147.1 318.4 L147.3 318.4 L147.5 318.4 L147.7 318.4 L147.9 318.4 L148.1 318.4 L148.3 318.4 L148.5 318.4 L148.8 318.4 L149 318.4 L149.2 318.4 L149.4 318.4 L149.6 318.5 L149.8 318.5 L150 318.5 L150.2 318.5 L150.4 318.5 L150.6 318.5 L150.8 318.5 L151 318.6 L151.2 318.6 L151.4 318.6 L151.7 318.6 L151.9 318.7 L152.1 318.7 L152.3 318.7 L152.5 318.7 L152.7 318.8 L152.9 318.8 L153.1 318.8 L153.3 318.9 L153.5 318.9 L153.7 319 L153.9 319 L154.1 319 L154.3 319.1 L154.5 319.1 L154.7 319.2 L154.9 319.2 L155.1 319.3 L155.3 319.3 L155.5 319.4 L155.7 319.4 L155.9 319.5 L156.1 319.6 L156.3 319.6 L156.5 319.7 L156.7 319.7 L156.9 319.8 L157.1 319.9 L157.3 320 L157.4 320 L157.6 320.1 L157.8 320.2 L158 320.3 L158.2 320.4 L158.4 320.4 L158.6 320.5 L158.8 320.6 L159 320.7 L159.1 320.8 L159.3 320.9 L159.5 321 L159.7 321.1 L159.9 321.2 L160 321.3 L160.2 321.4 L160.4 321.6 L160.6 321.7 L160.7 321.8 L160.9 321.9 L161.1 322 L161.3 322.1 L161.4 322.3 L161.6 322.4 L161.7 322.5 L161.9 322.7 L162.1 322.8 L162.2 322.9 L162.4 323.1 L162.5 323.2 L162.7 323.4 L162.8 323.5 L162.9 323.6 L163.1 323.8 L163.2 323.9 L163.3 324.1 L163.5 324.2 L163.6 324.4 L163.7 324.5 L163.8 324.7 L163.9 324.8 L164.1 325 L164.2 325.2 L164.3 325.3 L164.4 325.5 L164.5 325.6 L164.5 325.8 L164.6 326 L164.7 326.1 L164.8 326.3 L164.9 326.5 L164.9 326.6 L165 326.8 L165 327 L165.1 327.2 L165.2 327.3 L165.2 327.5 L165.2 327.7 L165.3 327.9 L165.3 328 L165.3 328.2 L165.3 328.4 L165.3 328.6 L165.4 328.7 L165.4 328.9 L165.4 329.1 L165.4 329.3 L165.3 329.4 L165.3 329.6 L165.3 329.8 L165.3 330 L165.3 330.1 L165.2 330.3 L165.2 330.5 L165.1 330.6 L165.1 330.8 L165.1 331 L165 331.1 L164.9 331.3 L164.9 331.5 L164.8 331.6 L164.7 331.8 L164.7 332 L164.6 332.1 L164.5 332.3 L164.4 332.4 L164.3 332.6 L164.2 332.8 L164.1 332.9 L164 333.1 L163.9 333.2 L163.8 333.4 L163.6 333.5 L163.5 333.6 L163.4 333.8 L163.3 333.9 L163.1 334 L163 334.2 L162.8 334.3 L162.7 334.4 L162.5 334.6 L162.4 334.7 L162.2 334.8 L162.1 334.9 L161.9 335.1 L161.8 335.2 L161.6 335.3 L161.4 335.4 L161.2 335.5 L161.1 335.6 L160.9 335.7 L160.7 335.8 L160.5 335.9 L160.3 336 L160.2 336.1 L160 336.2 L159.8 336.3 L159.6 336.4 L159.4 336.5 L159.2 336.6 L159 336.7 L158.8 336.8 L158.6 336.9 L158.4 336.9 L158.2 337 L158 337.1 L157.8 337.2 L157.6 337.3 L157.4 337.3 L157.2 337.4 L157 337.5 L156.8 337.6 L156.6 337.6 L156.4 337.7 L156.2 337.7 L156 337.8 L155.8 337.9 L155.6 337.9 L155.4 338 L155.1 338 L154.9 338.1 L154.7 338.2 L154.5 338.2 L154.3 338.3 L154.1 338.3 L153.9 338.4 L153.7 338.4 L153.5 338.4 L153.3 338.5 L153.1 338.5 L152.9 338.6 L152.7 338.6 L152.5 338.6 L152.3 338.7 L152.1 338.7 L151.9 338.7 L151.7 338.8 L151.5 338.8 L151.3 338.8 L151.1 338.9 L150.9 338.9 L150.7 338.9 L150.5 338.9 L150.3 339 L150.1 339 L149.9 339 L149.7 339 L149.5 339 L149.3 339.1 L149.1 339.1 L148.9 339.1 L148.7 339.1 L148.5 339.1 L148.3 339.1 L148.1 339.2 L147.9 339.2 L147.7 339.2 L147.5 339.2 L147.3 339.2 L147.1 339.2 L146.9 339.2 L146.7 339.2 L146.5 339.2 L146.3 339.2 L146.1 339.2 L145.9 339.2 L145.7 339.2 L145.5 339.2 L145.3 339.2 L145.1 339.2 L144.9 339.2 L144.7 339.2 L144.5 339.2 L144.3 339.2 L144.1 339.2 L143.9 339.2 L143.7 339.2 L143.5 339.2 L143.3 339.2 L143.1 339.2 L142.9 339.2 L142.7 339.2 L142.5 339.2 L142.3 339.2 L142.1 339.2 L141.9 339.2 L141.7 339.2 L141.5 339.2 L141.3 339.1 L141.1 339.1 L141 339.1 L140.8 339.1 L140.6 339.1 L140.4 339.1 L140.2 339.1 L140 339.1 L139.8 339.1 L139.6 339.1 L139.4 339 L139.2 339 L139 339 L138.8 339 L138.6 339 L138.4 339 L138.2 339 L138 339 L137.8 339 L137.6 338.9 L137.4 338.9 L137.2 338.9 L137 338.9"/>
<path d="M124.9 326.9 L125.3 326.2 L125.7 325.5 L126.1 324.9 L126.6 324.2 L127 323.5 L127.5 322.9 L127.9 322.2 L128.4 321.6 L128.8 320.9 L129.3 320.2 L129.8 319.6 L130.3 318.9 L130.7 318.3 L131.2 317.6 L131.7 317 L132.2 316.3 L132.7 315.7 L133.2 315.1 L133.7 314.4 L134.2 313.8 L134.7 313.2 L135.2 312.6 L135.8 311.9 L136.3 311.3 L136.8 310.7 L137.4 310.1 L137.9 309.5 L138.5 308.9 L139 308.3 L139.6 307.8 L140.2 307.2 L140.8 306.6 L141.3 306.1 L141.9 305.5 L142.6 305 L143.2 304.5 L143.8 304 L144.4 303.5 L145.1 302.9 L145.7 302.5 L146.4 302 L147 301.5 L147.7 301 L148.3 300.6 L149 300.1 L149.7 299.7 L150.4 299.2 L151.1 298.8 L151.8 298.4 L152.5 298 L153.2 297.6 L153.9 297.2 L154.6 296.8 L155.3 296.5 L156 296.1 L156.7 295.7 L157.5 295.4 L158.2 295.1 L158.9 294.7 L159.7 294.4 L160.4 294.1 L161.1 293.8 L161.9 293.5 L162.6 293.2 L163.4 292.9 L164.1 292.6 L164.9 292.4 L165.6 292.1 L166.4 291.9 L167.1 291.6 L167.9 291.4 L168.6 291.1 L169.4 290.9 L170.2 290.7 L170.9 290.5 L171.7 290.3 L172.5 290.1 L173.3 289.9 L174 289.7 L174.8 289.6 L175.6 289.4 L176.4 289.2 L177.2 289.1 L178 288.9 L178.7 288.8 L179.5 288.7 L180.3 288.5 L181.1 288.4 L181.9 288.3 L182.7 288.2 L183.5 288.1 L184.3 288 L185.1 287.9 L185.9 287.8 L186.7 287.8 L187.5 287.7 L188.3 287.6 L189.1 287.6 L189.9 287.5 L190.7 287.5 L191.5 287.4 L192.3 287.4 L193.2 287.4 L194 287.3 L194.8 287.3 L195.6 287.3 L196.4 287.3 L197.2 287.3 L198 287.3 L198.8 287.3 L199.7 287.3 L200.5 287.3 L201.3 287.3 L202.1 287.4 L202.9 287.4 L203.7 287.4 L204.5 287.5 L205.4 287.5 L206.2 287.6 L207 287.6 L207.8 287.7 L208.6 287.7 L209.4 287.8 L210.3 287.9 L211.1 287.9 L211.9 288 L212.7 288.1 L213.5 288.2 L214.3 288.3 L215.2 288.4 L216 288.5 L216.8 288.6 L217.6 288.7 L218.4 288.8 L219.2 288.9 L220 289 L220.8 289.1 L221.6 289.3 L222.5 289.4 L223.3 289.5 L224.1 289.7 L224.9 289.8 L225.7 289.9 L226.5 290.1 L227.3 290.2 L228.1 290.4 L228.9 290.6 L229.7 290.7 L230.5 290.9 L231.3 291.1 L232 291.3 L232.8 291.5 L233.6 291.7 L234.4 291.9 L235.2 292.1 L236 292.3 L236.7 292.5 L237.5 292.7 L238.3 293 L239 293.2 L239.8 293.5 L240.6 293.7 L241.3 294 L242.1 294.2 L242.8 294.5 L243.6 294.8 L244.3 295.1 L245.1 295.4 L245.8 295.7 L246.5 296 L247.3 296.3 L248 296.6 L248.7 297 L249.4 297.3 L250.1 297.7 L250.8 298 L251.5 298.4 L252.2 298.8 L252.9 299.1 L253.6 299.5 L254.3 299.9 L255 300.4 L255.7 300.8 L256.3 301.2 L257 301.6 L257.7 302.1 L258.3 302.5 L259 303 L259.6 303.5 L260.3 304 L260.9 304.5 L261.5 305 L262.2 305.5 L262.8 306 L263.4 306.5 L264 307.1 L264.6 307.6 L265.2 308.2 L265.8 308.8 L266.3 309.4 L266.9 310 L267.4 310.6 L268 311.2 L268.5 311.8 L269 312.5 L269.5 313.1 L269.9 313.8 L270.4 314.5 L270.8 315.2 L271.2 315.9 L271.6 316.6 L272 317.3 L272.3 318.1 L272.7 318.8 L273 319.6 L273.2 320.3 L273.5 321.1 L273.7 321.9 L273.9 322.7 L274.1 323.5 L274.3 324.3 L274.4 325.1 L274.5 325.9 L274.6 326.7 L274.7 327.6 L274.7 328.4 L274.7 329.2 L274.7 330 L274.7 330.8 L274.6 331.6 L274.5 332.4 L274.4 333.2 L274.3 334 L274.1 334.8 L274 335.6 L273.7 336.4 L273.5 337.1 L273.3 337.9 L273 338.6 L272.7 339.4 L272.3 340.1 L272 340.8 L271.6 341.5 L271.2 342.2 L270.8 342.8 L270.4 343.5 L269.9 344.1 L269.5 344.8 L269 345.4 L268.5 346 L268 346.7 L267.4 347.3 L266.9 347.9 L266.3 348.4 L265.7 349 L265.1 349.6 L264.5 350.1 L263.9 350.7 L263.3 351.2 L262.7 351.7 L262 352.2 L261.4 352.7 L260.7 353.2 L260.1 353.7 L259.4 354.2 L258.7 354.6 L258 355.1 L257.3 355.5 L256.7 356 L256 356.4 L255.3 356.8 L254.6 357.2 L253.9 357.6 L253.1 358 L252.4 358.4 L251.7 358.7 L251 359.1 L250.3 359.4 L249.5 359.8 L248.8 360.1 L248.1 360.5 L247.3 360.8 L246.6 361.1 L245.9 361.4 L245.1 361.7 L244.4 362 L243.6 362.2 L242.9 362.5 L242.1 362.8 L241.3 363 L240.6 363.3 L239.8 363.5 L239 363.8 L238.3 364 L237.5 364.2 L236.7 364.4 L235.9 364.6 L235.2 364.8 L234.4 365 L233.6 365.2 L232.8 365.4 L232 365.6 L231.2 365.7 L230.4 365.9 L229.6 366 L228.8 366.2 L228 366.3 L227.2 366.5 L226.4 366.6 L225.6 366.7 L224.8 366.8 L224 367 L223.2 367.1 L222.4 367.2 L221.6 367.3 L220.8 367.4 L220 367.5 L219.2 367.5 L218.4 367.6 L217.6 367.7 L216.8 367.8 L215.9 367.8 L215.1 367.9 L214.3 367.9 L213.5 368 L212.7 368 L211.9 368.1 L211.1 368.1 L210.2 368.2 L209.4 368.2 L208.6 368.2 L207.8 368.2 L207 368.3 L206.2 368.3 L205.3 368.3 L204.5 368.3 L203.7 368.3 L202.9 368.3 L202.1 368.3 L201.3 368.3 L200.5 368.3 L199.7 368.3 L198.8 368.3 L198 368.3 L197.2 368.3 L196.4 368.3 L195.6 368.2 L194.8 368.2 L194 368.2 L193.2 368.2 L192.4 368.1 L191.6 368.1 L190.8 368 L190 368 L189.2 367.9 L188.4 367.9 L187.6 367.8 L186.8 367.8 L186 367.7 L185.2 367.6 L184.4 367.5 L183.6 367.4 L182.8 367.4 L182 367.3 L181.2 367.2 L180.4 367.1 L179.6 366.9 L178.9 366.8 L178.1 366.7 L177.3 366.6 L176.5 366.4 L175.7 366.3 L174.9 366.2 L174.1 366 L173.3 365.8 L172.6 365.7 L171.8 365.5 L171 365.3 L170.2 365.1 L169.4 364.9 L168.7 364.7 L167.9 364.5 L167.1 364.3 L166.3 364.1 L165.6 363.9 L164.8 363.6 L164 363.4 L163.3 363.1 L162.5 362.9 L161.7 362.6 L160.9 362.3 L160.2 362.1 L159.4 361.8 L158.6 361.5 L157.9 361.1 L157.1 360.8 L156.4 360.5 L155.6 360.2 L154.8 359.8"/>
<path d="M124.4 327.2 L124.8 326.2 L125.1 325.2 L125.4 324.2 L125.8 323.2 L126.2 322.2 L126.6 321.3 L127 320.3 L127.4 319.4 L127.8 318.4 L128.3 317.5 L128.8 316.6 L129.2 315.7 L129.7 314.8 L130.3 314 L130.8 313.1 L131.3 312.3 L131.9 311.4 L132.4 310.6 L133 309.8 L133.6 309 L134.2 308.2 L134.8 307.4 L135.5 306.6 L136.1 305.9 L136.8 305.1 L137.4 304.4 L138.1 303.7 L138.8 302.9 L139.5 302.2 L140.2 301.5 L140.9 300.9 L141.6 300.2 L142.4 299.5 L143.1 298.9 L143.9 298.2 L144.7 297.6 L145.4 297 L146.2 296.3 L147 295.7 L147.8 295.1 L148.6 294.6 L149.5 294 L150.3 293.4 L151.1 292.9 L152 292.3 L152.8 291.8 L153.7 291.3 L154.6 290.7 L155.4 290.2 L156.3 289.7 L157.2 289.2 L158.1 288.8 L159 288.3 L159.9 287.8 L160.8 287.4 L161.7 286.9 L162.6 286.5 L163.5 286.1 L164.5 285.7 L165.4 285.3 L166.3 284.9 L167.3 284.5 L168.2 284.1 L169.2 283.7 L170.1 283.3 L171.1 283 L172 282.6 L173 282.3 L174 282 L174.9 281.7 L175.9 281.3 L176.9 281 L177.8 280.7 L178.8 280.4 L179.8 280.2 L180.8 279.9 L181.7 279.6 L182.7 279.4 L183.7 279.1 L184.7 278.9 L185.7 278.6 L186.6 278.4 L187.6 278.2 L188.6 278 L189.6 277.8 L190.6 277.6 L191.5 277.4 L192.5 277.2 L193.5 277 L194.5 276.9 L195.5 276.7 L196.5 276.5 L197.5 276.4 L198.5 276.3 L199.5 276.1 L200.4 276 L201.4 275.9 L202.4 275.8 L203.4 275.7 L204.4 275.6 L205.4 275.5 L206.4 275.4 L207.4 275.4 L208.4 275.3 L209.4 275.2 L210.4 275.2 L211.4 275.1 L212.4 275.1 L213.4 275.1 L214.4 275.1 L215.4 275 L216.4 275 L217.4 275 L218.4 275 L219.4 275.1 L220.4 275.1 L221.4 275.1 L222.4 275.1 L223.4 275.2 L224.4 275.2 L225.4 275.3 L226.4 275.3 L227.4 275.4 L228.4 275.5 L229.4 275.5 L230.4 275.6 L231.4 275.7 L232.4 275.8 L233.4 275.9 L234.4 276 L235.4 276.1 L236.4 276.3 L237.4 276.4 L238.4 276.5 L239.3 276.7 L240.3 276.8 L241.3 277 L242.3 277.1 L243.3 277.3 L244.3 277.5 L245.3 277.6 L246.3 277.8 L247.3 278 L248.3 278.2 L249.3 278.4 L250.3 278.6 L251.3 278.8 L252.3 279.1 L253.3 279.3 L254.3 279.5 L255.3 279.7 L256.3 280 L257.3 280.2 L258.2 280.5 L259.2 280.7 L260.2 281 L261.2 281.3 L262.2 281.6 L263.2 281.8 L264.2 282.1 L265.2 282.4 L266.1 282.7 L267.1 283 L268.1 283.3 L269.1 283.7 L270.1 284 L271 284.3 L272 284.7 L273 285 L273.9 285.4 L274.9 285.7 L275.8 286.1 L276.8 286.5 L277.7 286.9 L278.7 287.3 L279.6 287.7 L280.5 288.1 L281.4 288.5 L282.4 288.9 L283.3 289.4 L284.2 289.8 L285.1 290.3 L286 290.7 L286.8 291.2 L287.7 291.7 L288.6 292.2 L289.4 292.7 L290.3 293.3 L291.1 293.8 L292 294.3 L292.8 294.9 L293.6 295.5 L294.4 296.1 L295.2 296.6 L296 297.3 L296.8 297.9 L297.6 298.5 L298.3 299.1 L299.1 299.8 L299.8 300.5 L300.5 301.2 L301.2 301.9 L301.9 302.6 L302.6 303.3 L303.3 304 L303.9 304.8 L304.6 305.5 L305.2 306.3 L305.8 307.1 L306.4 307.9 L307 308.8 L307.6 309.6 L308.2 310.5 L308.7 311.3 L309.2 312.2 L309.7 313.1 L310.2 314 L310.6 314.9 L311.1 315.8 L311.5 316.7 L311.9 317.6 L312.3 318.6 L312.6 319.5 L312.9 320.5 L313.2 321.4 L313.4 322.4 L313.7 323.3 L313.9 324.3 L314 325.3 L314.2 326.2 L314.3 327.2 L314.3 328.2 L314.4 329.1 L314.4 330.1 L314.3 331.1 L314.3 332.1 L314.2 333 L314 334 L313.8 335 L313.6 335.9 L313.3 336.9 L313 337.8 L312.7 338.8 L312.3 339.7 L311.9 340.6 L311.5 341.6 L311 342.5 L310.5 343.4 L310 344.3 L309.4 345.2 L308.9 346 L308.3 346.9 L307.7 347.7 L307.1 348.6 L306.4 349.4 L305.8 350.2 L305.1 351 L304.4 351.7 L303.7 352.5 L303 353.3 L302.3 354 L301.5 354.7 L300.8 355.4 L300 356.1 L299.3 356.8 L298.5 357.5 L297.7 358.1 L297 358.7 L296.2 359.4 L295.4 360 L294.6 360.6 L293.7 361.2 L292.9 361.7 L292.1 362.3 L291.3 362.9 L290.4 363.4 L289.6 363.9 L288.7 364.4 L287.8 364.9 L287 365.4 L286.1 365.9 L285.2 366.3 L284.3 366.8 L283.4 367.2 L282.6 367.7 L281.7 368.1 L280.7 368.5 L279.8 368.9 L278.9 369.3 L278 369.7 L277.1 370 L276.1 370.4 L275.2 370.7 L274.3 371.1 L273.3 371.4 L272.4 371.7 L271.4 372 L270.5 372.3 L269.5 372.6 L268.5 372.9 L267.6 373.2 L266.6 373.4 L265.6 373.7 L264.6 373.9 L263.7 374.2 L262.7 374.4 L261.7 374.6 L260.7 374.9 L259.7 375.1 L258.7 375.3 L257.7 375.5 L256.7 375.6 L255.7 375.8 L254.7 376 L253.7 376.2 L252.7 376.3 L251.7 376.5 L250.7 376.6 L249.7 376.8 L248.7 376.9 L247.7 377 L246.6 377.1 L245.6 377.3 L244.6 377.4 L243.6 377.5 L242.6 377.6 L241.6 377.7 L240.6 377.8 L239.5 377.8 L238.5 377.9 L237.5 378 L236.5 378.1 L235.5 378.1 L234.5 378.2 L233.5 378.3 L232.5 378.3 L231.4 378.4 L230.4 378.4 L229.4 378.5 L228.4 378.5 L227.4 378.5 L226.4 378.6 L225.4 378.6 L224.4 378.6 L223.4 378.6 L222.4 378.6 L221.4 378.6 L220.4 378.6 L219.4 378.6 L218.4 378.6 L217.4 378.6 L216.4 378.6 L215.4 378.6 L214.3 378.5 L213.3 378.5 L212.3 378.5 L211.3 378.4 L210.3 378.4 L209.3 378.3 L208.4 378.2 L207.4 378.2 L206.4 378.1 L205.4 378 L204.4 377.9 L203.4 377.8 L202.4 377.8 L201.4 377.7 L200.4 377.5 L199.4 377.4 L198.4 377.3 L197.4 377.2 L196.4 377.1 L195.4 376.9 L194.4 376.8 L193.4 376.6 L192.4 376.5 L191.4 376.3 L190.5 376.2 L189.5 376 L188.5 375.8 L187.5 375.6 L186.5 375.4 L185.5 375.2 L184.5 375 L183.5 374.8 L182.6 374.6 L181.6 374.4 L180.6 374.1 L179.6 373.9 L178.6 373.6 L177.6 373.4 L176.6 373.1 L175.7 372.9 L174.7 372.6 L173.7 372.3 L172.7 372 L171.7 371.7 L170.7 371.4 L169.8 371.1"/>
<path d="M124.2 327 L124.6 325.8 L124.9 324.6 L125.3 323.4 L125.6 322.3 L126 321.1 L126.4 319.9 L126.9 318.7 L127.3 317.5 L127.8 316.4 L128.2 315.2 L128.7 314 L129.2 312.9 L129.8 311.7 L130.3 310.6 L130.9 309.5 L131.5 308.4 L132.1 307.3 L132.7 306.2 L133.4 305.1 L134 304.1 L134.7 303 L135.4 302 L136.2 301 L136.9 300.1 L137.7 299.1 L138.5 298.2 L139.3 297.2 L140.2 296.3 L141 295.4 L141.9 294.6 L142.8 293.7 L143.7 292.9 L144.6 292 L145.5 291.2 L146.5 290.4 L147.5 289.7 L148.4 288.9 L149.4 288.1 L150.4 287.4 L151.5 286.7 L152.5 286 L153.5 285.3 L154.6 284.6 L155.7 284 L156.7 283.3 L157.8 282.7 L158.9 282 L160 281.4 L161.1 280.8 L162.2 280.2 L163.3 279.7 L164.5 279.1 L165.6 278.5 L166.7 278 L167.9 277.5 L169 276.9 L170.2 276.4 L171.3 275.9 L172.5 275.4 L173.6 274.9 L174.8 274.5 L176 274 L177.1 273.5 L178.3 273.1 L179.5 272.7 L180.6 272.2 L181.8 271.8 L183 271.4 L184.2 271 L185.3 270.6 L186.5 270.3 L187.7 269.9 L188.9 269.5 L190.1 269.2 L191.3 268.8 L192.5 268.5 L193.7 268.2 L194.9 267.9 L196.1 267.6 L197.3 267.3 L198.5 267 L199.7 266.7 L200.9 266.4 L202.1 266.2 L203.3 265.9 L204.5 265.7 L205.7 265.5 L207 265.2 L208.2 265 L209.4 264.8 L210.6 264.6 L211.8 264.4 L213.1 264.2 L214.3 264.1 L215.5 263.9 L216.7 263.8 L218 263.6 L219.2 263.5 L220.4 263.4 L221.7 263.2 L222.9 263.1 L224.1 263 L225.4 262.9 L226.6 262.8 L227.8 262.8 L229.1 262.7 L230.3 262.6 L231.5 262.6 L232.8 262.5 L234 262.5 L235.3 262.5 L236.5 262.4 L237.7 262.4 L239 262.4 L240.2 262.4 L241.5 262.4 L242.7 262.5 L243.9 262.5 L245.2 262.5 L246.4 262.6 L247.7 262.6 L248.9 262.7 L250.2 262.7 L251.4 262.8 L252.7 262.9 L253.9 263 L255.2 263.1 L256.4 263.2 L257.6 263.3 L258.9 263.4 L260.1 263.5 L261.4 263.6 L262.6 263.8 L263.9 263.9 L265.1 264.1 L266.4 264.3 L267.6 264.4 L268.8 264.6 L270.1 264.8 L271.3 265 L272.6 265.2 L273.8 265.4 L275 265.6 L276.3 265.8 L277.5 266 L278.8 266.3 L280 266.5 L281.2 266.7 L282.5 267 L283.7 267.2 L284.9 267.5 L286.2 267.8 L287.4 268.1 L288.6 268.3 L289.9 268.6 L291.1 268.9 L292.3 269.2 L293.5 269.6 L294.8 269.9 L296 270.2 L297.2 270.5 L298.4 270.9 L299.6 271.2 L300.9 271.6 L302.1 271.9 L303.3 272.3 L304.5 272.7 L305.7 273.1 L306.9 273.5 L308.1 273.9 L309.3 274.3 L310.4 274.7 L311.6 275.1 L312.8 275.6 L314 276 L315.1 276.5 L316.3 277 L317.4 277.5 L318.6 278 L319.7 278.5 L320.8 279 L322 279.5 L323.1 280 L324.2 280.6 L325.3 281.2 L326.4 281.8 L327.5 282.3 L328.5 282.9 L329.6 283.6 L330.7 284.2 L331.7 284.8 L332.7 285.5 L333.8 286.2 L334.8 286.9 L335.8 287.6 L336.8 288.3 L337.8 289 L338.8 289.8 L339.7 290.5 L340.7 291.3 L341.6 292.1 L342.5 292.9 L343.5 293.8 L344.4 294.6 L345.2 295.5 L346.1 296.3 L347 297.2 L347.8 298.1 L348.7 299.1 L349.5 300 L350.3 301 L351.1 302 L351.8 303 L352.6 304 L353.3 305 L354 306.1 L354.7 307.1 L355.4 308.2 L356 309.3 L356.6 310.4 L357.2 311.5 L357.8 312.6 L358.3 313.8 L358.8 314.9 L359.3 316 L359.7 317.2 L360.1 318.4 L360.5 319.5 L360.8 320.7 L361.1 321.9 L361.4 323.1 L361.6 324.3 L361.8 325.5 L361.9 326.7 L362 327.9 L362 329.1 L362 330.3 L362 331.5 L361.9 332.7 L361.7 333.9 L361.5 335.1 L361.3 336.3 L361 337.5 L360.7 338.7 L360.3 339.9 L359.8 341.1 L359.4 342.3 L358.8 343.4 L358.3 344.6 L357.7 345.7 L357.1 346.8 L356.5 347.9 L355.8 349 L355.1 350.1 L354.4 351.1 L353.6 352.2 L352.8 353.2 L352 354.2 L351.2 355.2 L350.4 356.1 L349.5 357.1 L348.7 358 L347.8 358.9 L346.9 359.8 L346 360.7 L345 361.5 L344.1 362.3 L343.1 363.2 L342.2 363.9 L341.2 364.7 L340.2 365.5 L339.2 366.2 L338.2 366.9 L337.2 367.6 L336.1 368.3 L335.1 368.9 L334 369.6 L333 370.2 L331.9 370.8 L330.8 371.4 L329.7 372 L328.6 372.6 L327.5 373.1 L326.4 373.7 L325.2 374.2 L324.1 374.7 L323 375.2 L321.8 375.6 L320.7 376.1 L319.5 376.5 L318.4 377 L317.2 377.4 L316 377.8 L314.8 378.2 L313.7 378.6 L312.5 378.9 L311.3 379.3 L310.1 379.6 L308.9 380 L307.7 380.3 L306.5 380.6 L305.3 380.9 L304.1 381.2 L302.9 381.5 L301.7 381.7 L300.5 382 L299.3 382.2 L298 382.5 L296.8 382.7 L295.6 382.9 L294.4 383.1 L293.1 383.3 L291.9 383.5 L290.7 383.7 L289.5 383.9 L288.2 384 L287 384.2 L285.7 384.4 L284.5 384.5 L283.3 384.7 L282 384.8 L280.8 384.9 L279.5 385 L278.3 385.2 L277 385.3 L275.8 385.4 L274.6 385.5 L273.3 385.6 L272.1 385.7 L270.8 385.8 L269.5 385.9 L268.3 385.9 L267 386 L265.8 386.1 L264.5 386.2 L263.3 386.2 L262 386.3 L260.8 386.4 L259.5 386.4 L258.3 386.5 L257 386.6 L255.8 386.6 L254.5 386.7 L253.3 386.7 L252 386.8 L250.8 386.8 L249.5 386.9 L248.3 386.9 L247 387 L245.8 387 L244.5 387 L243.3 387.1 L242 387.1 L240.8 387.1 L239.5 387.1 L238.3 387.1 L237 387.1 L235.8 387.1 L234.5 387.1 L233.3 387.1 L232 387.1 L230.8 387 L229.6 387 L228.3 387 L227.1 386.9 L225.8 386.9 L224.6 386.8 L223.4 386.7 L222.1 386.7 L220.9 386.6 L219.6 386.5 L218.4 386.4 L217.2 386.3 L215.9 386.2 L214.7 386.1 L213.5 385.9 L212.2 385.8 L211 385.6 L209.8 385.5 L208.6 385.3 L207.3 385.1 L206.1 384.9 L204.9 384.7 L203.7 384.5 L202.4 384.3 L201.2 384.1 L200 383.8 L198.8 383.6 L197.6 383.3 L196.3 383 L195.1 382.7 L193.9 382.4 L192.7 382.1 L191.5 381.8 L190.3 381.5 L189.1 381.1 L187.9 380.7 L186.7 380.4 L185.5 380"/>
<path d="M124 326.8 L124.2 324.5 L124.6 322.3 L125 320.1 L125.5 317.9 L126.1 315.7 L126.7 313.6 L127.4 311.5 L128.1 309.4 L128.9 307.3 L129.7 305.2 L130.6 303.1 L131.5 301.1 L132.4 299 L133.4 296.9 L134.4 294.9 L135.4 292.8 L136.5 290.8 L137.6 288.8 L138.7 286.8 L139.9 284.8 L141.1 282.9 L142.4 281 L143.7 279.1 L145 277.2 L146.4 275.4 L147.8 273.7 L149.2 272 L150.7 270.3 L152.3 268.7 L153.9 267.1 L155.5 265.6 L157.1 264.1 L158.8 262.7 L160.6 261.3 L162.3 259.9 L164.1 258.6 L165.9 257.4 L167.8 256.1 L169.6 254.9 L171.5 253.7 L173.5 252.6 L175.4 251.4 L177.3 250.3 L179.3 249.2 L181.3 248.2 L183.3 247.1 L185.3 246.1 L187.3 245 L189.3 244 L191.4 243 L193.4 242 L195.4 241 L197.5 240 L199.5 239 L201.6 238 L203.6 237.1 L205.7 236.1 L207.8 235.2 L209.8 234.3 L211.9 233.3 L214 232.4 L216.1 231.5 L218.2 230.7 L220.3 229.8 L222.4 228.9 L224.5 228.1 L226.6 227.3 L228.7 226.5 L230.8 225.7 L233 224.9 L235.1 224.1 L237.2 223.4 L239.4 222.7 L241.5 221.9 L243.7 221.3 L245.8 220.6 L248 219.9 L250.2 219.3 L252.3 218.7 L254.5 218.1 L256.7 217.5 L258.9 216.9 L261 216.4 L263.2 215.9 L265.4 215.4 L267.6 214.9 L269.8 214.5 L272 214 L274.2 213.6 L276.4 213.2 L278.7 212.9 L280.9 212.6 L283.1 212.2 L285.3 212 L287.5 211.7 L289.8 211.5 L292 211.3 L294.2 211.1 L296.5 210.9 L298.7 210.8 L301 210.7 L303.2 210.6 L305.5 210.6 L307.7 210.6 L310 210.6 L312.2 210.6 L314.5 210.6 L316.8 210.6 L319 210.7 L321.3 210.8 L323.5 210.8 L325.8 210.9 L328.1 211 L330.3 211.1 L332.6 211.2 L334.9 211.3 L337.1 211.4 L339.4 211.4 L341.7 211.5 L343.9 211.6 L346.2 211.7 L348.4 211.7 L350.7 211.8 L353 211.8 L355.2 211.9 L357.5 212 L359.7 212 L362 212.1 L364.2 212.2 L366.5 212.2 L368.7 212.3 L371 212.4 L373.2 212.5 L375.5 212.6 L377.7 212.8 L379.9 212.9 L382.2 213.1 L384.4 213.3 L386.7 213.5 L388.9 213.7 L391.1 213.9 L393.4 214.2 L395.6 214.5 L397.8 214.8 L400.1 215.1 L402.3 215.4 L404.5 215.7 L406.7 216.1 L409 216.4 L411.2 216.8 L413.4 217.2 L415.6 217.6 L417.9 218 L420.1 218.5 L422.3 218.9 L424.5 219.4 L426.8 219.8 L429 220.3 L431.2 220.8 L433.4 221.2 L435.6 221.7 L437.9 222.2 L440.1 222.7 L442.3 223.3 L444.5 223.8 L446.7 224.4 L448.9 225 L451 225.6 L453.2 226.3 L455.4 226.9 L457.5 227.7 L459.6 228.4 L461.7 229.2 L463.8 230 L465.9 230.9 L467.9 231.8 L469.9 232.8 L471.9 233.8 L473.9 234.9 L475.8 236 L477.8 237.1 L479.7 238.3 L481.6 239.5 L483.5 240.8 L485.3 242.1 L487.2 243.4 L489.1 244.6 L490.9 245.9 L492.8 247.2 L494.7 248.5 L496.5 249.8 L498.4 251.1 L500.3 252.3 L502.2 253.6 L504 254.8 L505.9 256.1 L507.8 257.3 L509.6 258.6 L511.4 259.9 L513.3 261.2 L515.1 262.5 L516.8 263.8 L518.6 265.2 L520.3 266.5 L522 268 L523.7 269.4 L525.4 270.9 L527.1 272.4 L528.7 273.9 L530.4 275.5 L532 277.1 L533.6 278.8 L535.2 280.4 L536.7 282.1 L538.2 283.9 L539.7 285.7 L541.2 287.5 L542.6 289.3 L543.9 291.2 L545.2 293.1 L546.4 295 L547.6 297 L548.6 299 L549.6 301 L550.6 303 L551.4 305.1 L552.1 307.2 L552.8 309.3 L553.3 311.4 L553.8 313.6 L554.1 315.8 L554.3 318 L554.4 320.2 L554.4 322.4 L554.3 324.7 L554.1 326.9 L553.8 329.1 L553.4 331.3 L553 333.6 L552.4 335.7 L551.7 337.9 L551 340 L550.2 342.1 L549.3 344.2 L548.3 346.3 L547.3 348.3 L546.2 350.2 L545 352.2 L543.8 354.1 L542.5 356 L541.1 357.8 L539.7 359.6 L538.3 361.4 L536.8 363.1 L535.2 364.8 L533.7 366.5 L532 368.1 L530.4 369.6 L528.7 371.2 L527 372.7 L525.3 374.1 L523.5 375.5 L521.7 376.9 L519.9 378.2 L518.1 379.5 L516.2 380.8 L514.3 382 L512.4 383.3 L510.5 384.5 L508.6 385.6 L506.7 386.8 L504.8 387.9 L502.8 389.1 L500.9 390.2 L498.9 391.3 L496.9 392.3 L494.9 393.4 L492.9 394.4 L490.9 395.4 L488.9 396.4 L486.9 397.3 L484.9 398.3 L482.8 399.2 L480.8 400.1 L478.7 401 L476.7 401.9 L474.6 402.8 L472.5 403.6 L470.4 404.4 L468.3 405.2 L466.2 406 L464.1 406.8 L462 407.6 L459.9 408.3 L457.7 409 L455.6 409.7 L453.4 410.4 L451.3 411.1 L449.1 411.7 L447 412.4 L444.8 413 L442.6 413.6 L440.5 414.2 L438.3 414.8 L436.1 415.3 L433.9 415.9 L431.7 416.4 L429.5 416.9 L427.3 417.4 L425.1 417.9 L422.9 418.4 L420.6 418.8 L418.4 419.3 L416.2 419.7 L414 420.1 L411.7 420.5 L409.5 420.9 L407.3 421.2 L405 421.6 L402.8 421.9 L400.5 422.3 L398.3 422.6 L396 422.9 L393.8 423.2 L391.5 423.4 L389.3 423.7 L387 423.9 L384.8 424.2 L382.5 424.4 L380.3 424.6 L378 424.8 L375.7 425 L373.5 425.2 L371.2 425.3 L369 425.5 L366.7 425.6 L364.5 425.7 L362.2 425.9 L359.9 426 L357.7 426.1 L355.4 426.1 L353.2 426.2 L350.9 426.3 L348.7 426.3 L346.4 426.4 L344.2 426.4 L341.9 426.4 L339.7 426.4 L337.5 426.4 L335.2 426.4 L333 426.3 L330.7 426.3 L328.5 426.2 L326.2 426.1 L324 426 L321.8 425.9 L319.5 425.8 L317.3 425.7 L315.1 425.5 L312.8 425.4 L310.6 425.2 L308.3 425 L306.1 424.8 L303.9 424.6 L301.6 424.4 L299.4 424.1 L297.2 423.9 L294.9 423.6 L292.7 423.3 L290.5 423 L288.2 422.7 L286 422.4 L283.8 422 L281.5 421.6 L279.3 421.3 L277.1 420.9 L274.9 420.5 L272.6 420 L270.4 419.6 L268.2 419.1 L265.9 418.7 L263.7 418.2 L261.5 417.7 L259.3 417.3 L257 416.8 L254.8 416.3 L252.6 415.8 L250.4 415.3 L248.2 414.8 L246 414.4 L243.7 413.9 L241.5 413.4 L239.3 412.9 L237.1 412.5 L234.9 412 L232.8 411.6 L230.6 411.1 L228.4 410.7 L226.2 410.3"/>
<path d="M123.8 326.6 L124.1 324.1 L124.5 321.5 L124.9 319 L125.5 316.5 L126 314.1 L126.7 311.7 L127.4 309.3 L128.2 306.9 L129.1 304.6 L130 302.3 L130.9 300 L132 297.8 L133.1 295.5 L134.2 293.4 L135.4 291.2 L136.6 289.1 L137.9 287 L139.3 284.9 L140.7 282.9 L142.1 280.8 L143.6 278.9 L145.2 276.9 L146.7 275 L148.4 273.1 L150 271.2 L151.7 269.4 L153.4 267.5 L155.2 265.8 L157 264 L158.8 262.3 L160.6 260.6 L162.5 258.9 L164.4 257.2 L166.4 255.6 L168.3 254 L170.3 252.5 L172.3 250.9 L174.3 249.4 L176.3 247.9 L178.4 246.5 L180.4 245 L182.5 243.6 L184.6 242.3 L186.7 240.9 L188.8 239.6 L191 238.3 L193.1 237 L195.3 235.8 L197.5 234.5 L199.7 233.3 L201.9 232.2 L204.1 231 L206.3 229.9 L208.5 228.8 L210.8 227.7 L213 226.6 L215.3 225.6 L217.6 224.6 L219.9 223.6 L222.2 222.6 L224.5 221.7 L226.8 220.8 L229.1 219.9 L231.5 219 L233.8 218.1 L236.2 217.3 L238.5 216.5 L240.9 215.7 L243.3 214.9 L245.7 214.1 L248 213.4 L250.4 212.7 L252.8 212 L255.2 211.3 L257.7 210.7 L260.1 210 L262.5 209.4 L264.9 208.8 L267.3 208.2 L269.8 207.6 L272.2 207.1 L274.7 206.5 L277.1 206 L279.5 205.5 L282 205 L284.4 204.6 L286.9 204.1 L289.3 203.7 L291.8 203.3 L294.3 202.9 L296.7 202.5 L299.2 202.1 L301.7 201.8 L304.1 201.4 L306.6 201.1 L309.1 200.8 L311.5 200.5 L314 200.3 L316.5 200 L319 199.8 L321.5 199.5 L323.9 199.3 L326.4 199.1 L328.9 199 L331.4 198.8 L333.9 198.7 L336.4 198.5 L338.9 198.4 L341.3 198.3 L343.8 198.2 L346.3 198.1 L348.8 198.1 L351.3 198.1 L353.8 198 L356.3 198 L358.8 198 L361.3 198 L363.8 198.1 L366.3 198.1 L368.8 198.2 L371.3 198.3 L373.8 198.3 L376.3 198.4 L378.8 198.6 L381.3 198.7 L383.8 198.8 L386.3 199 L388.8 199.2 L391.3 199.4 L393.8 199.6 L396.3 199.8 L398.8 200 L401.3 200.3 L403.8 200.5 L406.3 200.8 L408.8 201.1 L411.3 201.4 L413.7 201.8 L416.2 202.1 L418.7 202.5 L421.2 202.8 L423.7 203.2 L426.1 203.6 L428.6 204 L431.1 204.5 L433.5 204.9 L436 205.4 L438.5 205.9 L440.9 206.4 L443.3 206.9 L445.8 207.5 L448.2 208 L450.7 208.6 L453.1 209.2 L455.5 209.8 L457.9 210.5 L460.3 211.1 L462.8 211.8 L465.2 212.5 L467.5 213.2 L469.9 213.9 L472.3 214.6 L474.7 215.4 L477.1 216.2 L479.4 217 L481.8 217.8 L484.1 218.6 L486.5 219.5 L488.8 220.3 L491.1 221.2 L493.4 222.2 L495.7 223.1 L498 224.1 L500.3 225 L502.6 226 L504.9 227.1 L507.1 228.1 L509.4 229.2 L511.6 230.2 L513.9 231.3 L516.1 232.5 L518.3 233.6 L520.5 234.8 L522.7 236 L524.9 237.2 L527.1 238.4 L529.2 239.7 L531.3 241 L533.5 242.3 L535.6 243.6 L537.7 245 L539.7 246.4 L541.8 247.8 L543.8 249.2 L545.8 250.7 L547.8 252.2 L549.7 253.8 L551.7 255.3 L553.6 256.9 L555.5 258.6 L557.3 260.2 L559.2 261.9 L561 263.7 L562.8 265.4 L564.5 267.2 L566.2 269.1 L567.9 270.9 L569.6 272.8 L571.2 274.8 L572.7 276.7 L574.2 278.8 L575.7 280.8 L577.1 282.9 L578.5 285 L579.8 287.1 L581.1 289.2 L582.3 291.4 L583.5 293.7 L584.5 295.9 L585.6 298.2 L586.5 300.5 L587.4 302.9 L588.2 305.3 L589 307.7 L589.7 310.1 L590.2 312.6 L590.7 315 L591.1 317.5 L591.4 320 L591.6 322.4 L591.7 324.9 L591.6 327.4 L591.5 329.8 L591.2 332.2 L590.9 334.7 L590.4 337.1 L589.8 339.4 L589.1 341.8 L588.4 344.1 L587.5 346.5 L586.6 348.7 L585.6 351 L584.5 353.2 L583.3 355.5 L582.1 357.6 L580.8 359.8 L579.4 361.9 L577.9 364 L576.4 366 L574.9 368 L573.3 369.9 L571.6 371.9 L569.9 373.7 L568.1 375.6 L566.3 377.3 L564.5 379.1 L562.7 380.7 L560.8 382.4 L558.8 384 L556.9 385.5 L554.9 387 L552.9 388.5 L550.9 389.9 L548.9 391.3 L546.8 392.7 L544.7 394.1 L542.6 395.4 L540.5 396.7 L538.4 398 L536.2 399.3 L534.1 400.6 L532 401.9 L529.8 403.2 L527.6 404.4 L525.5 405.7 L523.3 407 L521.1 408.3 L519 409.6 L516.8 410.9 L514.7 412.2 L512.5 413.5 L510.4 414.9 L508.3 416.2 L506.1 417.5 L504 418.8 L501.8 420.1 L499.6 421.4 L497.5 422.7 L495.3 423.9 L493.1 425.1 L490.9 426.2 L488.7 427.3 L486.4 428.4 L484.2 429.4 L481.9 430.3 L479.6 431.2 L477.3 432.1 L475 432.8 L472.6 433.6 L470.2 434.2 L467.9 434.9 L465.5 435.5 L463 436 L460.6 436.5 L458.2 437 L455.7 437.5 L453.3 437.9 L450.8 438.3 L448.3 438.6 L445.8 439 L443.4 439.3 L440.9 439.6 L438.4 439.9 L435.9 440.2 L433.4 440.5 L430.9 440.8 L428.4 441.1 L425.9 441.4 L423.4 441.6 L420.9 441.9 L418.4 442.2 L415.9 442.4 L413.4 442.7 L410.9 442.9 L408.4 443.1 L405.9 443.4 L403.4 443.6 L400.9 443.8 L398.4 444 L395.9 444.2 L393.4 444.3 L390.9 444.5 L388.4 444.7 L385.9 444.8 L383.4 445 L380.9 445.1 L378.4 445.2 L375.9 445.3 L373.4 445.4 L370.9 445.5 L368.4 445.5 L365.9 445.6 L363.4 445.6 L360.9 445.7 L358.4 445.7 L355.9 445.7 L353.4 445.6 L350.9 445.6 L348.4 445.6 L345.9 445.5 L343.4 445.4 L341 445.3 L338.5 445.2 L336 445.1 L333.5 444.9 L331 444.7 L328.6 444.5 L326.1 444.3 L323.6 444.1 L321.1 443.9 L318.7 443.6 L316.2 443.3 L313.7 443 L311.3 442.7 L308.8 442.3 L306.3 441.9 L303.9 441.5 L301.4 441.1 L299 440.7 L296.5 440.3 L294 439.8 L291.6 439.3 L289.2 438.8 L286.7 438.3 L284.3 437.8 L281.8 437.3 L279.4 436.7 L276.9 436.2 L274.5 435.6 L272.1 435 L269.6 434.4 L267.2 433.8 L264.8 433.2 L262.4 432.6 L259.9 431.9 L257.5 431.3 L255.1 430.7 L252.7 430 L250.3 429.4 L247.8 428.7 L245.4 428.1 L243 427.4 L240.6 426.7 L238.2 426.1 L235.8 425.4 L233.4 424.7 L231 424.1 L228.6 423.4 L226.2 422.8"/>
<path d="M120.8 327 L120.8 324.1 L120.9 321.2 L121.2 318.3 L121.6 315.5 L122 312.6 L122.6 309.8 L123.4 307 L124.2 304.3 L125.1 301.5 L126.1 298.8 L127.2 296.2 L128.4 293.6 L129.6 291 L131 288.5 L132.4 286 L133.9 283.5 L135.4 281.1 L137 278.7 L138.6 276.3 L140.3 274 L142.1 271.7 L143.9 269.4 L145.7 267.2 L147.5 265 L149.4 262.7 L151.3 260.6 L153.2 258.4 L155.1 256.3 L157.1 254.2 L159.1 252.2 L161.2 250.1 L163.3 248.2 L165.4 246.2 L167.5 244.3 L169.7 242.4 L171.9 240.6 L174.1 238.7 L176.4 237 L178.7 235.3 L181 233.6 L183.4 231.9 L185.8 230.3 L188.2 228.8 L190.7 227.2 L193.2 225.7 L195.7 224.3 L198.2 222.9 L200.7 221.5 L203.3 220.1 L205.8 218.7 L208.4 217.4 L211 216.1 L213.6 214.8 L216.2 213.6 L218.8 212.4 L221.4 211.2 L224 210 L226.7 208.9 L229.3 207.7 L232 206.6 L234.7 205.6 L237.3 204.5 L240 203.5 L242.7 202.5 L245.4 201.5 L248.1 200.5 L250.9 199.6 L253.6 198.7 L256.3 197.8 L259.1 196.9 L261.8 196.1 L264.6 195.3 L267.3 194.5 L270.1 193.7 L272.9 192.9 L275.7 192.2 L278.4 191.5 L281.2 190.8 L284 190.1 L286.9 189.5 L289.7 188.8 L292.5 188.2 L295.3 187.6 L298.1 187.1 L301 186.5 L303.8 186 L306.6 185.5 L309.5 185 L312.3 184.5 L315.2 184.1 L318 183.6 L320.9 183.2 L323.7 182.8 L326.6 182.5 L329.5 182.1 L332.3 181.8 L335.2 181.4 L338.1 181.1 L341 180.9 L343.8 180.6 L346.7 180.4 L349.6 180.1 L352.5 179.9 L355.4 179.7 L358.2 179.5 L361.1 179.4 L364 179.2 L366.9 179.1 L369.8 179 L372.7 178.9 L375.5 178.8 L378.4 178.8 L381.3 178.7 L384.2 178.7 L387.1 178.7 L390 178.7 L392.8 178.8 L395.7 178.8 L398.6 178.9 L401.5 179 L404.4 179.1 L407.3 179.2 L410.1 179.4 L413 179.5 L415.9 179.7 L418.8 179.9 L421.6 180.1 L424.5 180.3 L427.4 180.6 L430.2 180.8 L433.1 181.1 L436 181.4 L438.8 181.8 L441.7 182.1 L444.5 182.5 L447.4 182.9 L450.2 183.3 L453.1 183.7 L455.9 184.1 L458.8 184.6 L461.6 185 L464.5 185.5 L467.3 186 L470.1 186.6 L473 187.1 L475.8 187.7 L478.6 188.3 L481.4 188.9 L484.2 189.5 L487 190.2 L489.8 190.8 L492.6 191.5 L495.4 192.2 L498.2 192.9 L501 193.7 L503.8 194.4 L506.6 195.2 L509.3 196 L512.1 196.8 L514.9 197.7 L517.6 198.5 L520.4 199.4 L523.1 200.3 L525.9 201.2 L528.6 202.2 L531.3 203.1 L534.1 204.1 L536.8 205.1 L539.5 206.1 L542.2 207.2 L544.9 208.2 L547.5 209.3 L550.2 210.4 L552.9 211.6 L555.5 212.8 L558.2 213.9 L560.8 215.2 L563.4 216.4 L566 217.7 L568.6 219 L571.1 220.3 L573.7 221.6 L576.2 223 L578.7 224.4 L581.2 225.8 L583.7 227.3 L586.1 228.8 L588.5 230.3 L591 231.9 L593.3 233.5 L595.7 235.1 L598.1 236.8 L600.4 238.5 L602.7 240.2 L605 242 L607.2 243.8 L609.4 245.6 L611.6 247.5 L613.8 249.4 L615.9 251.3 L618 253.3 L620 255.3 L622 257.3 L624 259.4 L626 261.5 L627.9 263.7 L629.7 265.9 L631.6 268.1 L633.3 270.4 L635.1 272.7 L636.7 275 L638.4 277.4 L640 279.8 L641.5 282.3 L643 284.8 L644.4 287.3 L645.8 289.9 L647.1 292.5 L648.4 295.2 L649.6 297.9 L650.7 300.6 L651.7 303.3 L652.6 306.1 L653.5 308.9 L654.2 311.7 L654.8 314.5 L655.2 317.3 L655.6 320.1 L655.8 322.9 L655.8 325.7 L655.7 328.6 L655.5 331.4 L655.1 334.1 L654.5 336.9 L653.8 339.7 L653 342.4 L652 345.1 L651 347.8 L649.8 350.4 L648.6 353.1 L647.2 355.6 L645.8 358.2 L644.3 360.7 L642.7 363.1 L641 365.5 L639.3 367.9 L637.6 370.2 L635.7 372.4 L633.9 374.7 L631.9 376.8 L630 379 L627.9 381.1 L625.9 383.1 L623.8 385.1 L621.7 387.1 L619.5 389 L617.3 390.9 L615.1 392.8 L612.9 394.6 L610.6 396.3 L608.3 398.1 L606 399.8 L603.6 401.4 L601.3 403 L598.9 404.6 L596.5 406.2 L594.1 407.7 L591.6 409.2 L589.2 410.7 L586.7 412.1 L584.2 413.5 L581.7 414.9 L579.1 416.2 L576.6 417.5 L574 418.8 L571.4 420.1 L568.8 421.4 L566.2 422.6 L563.6 423.8 L561 425 L558.4 426.2 L555.7 427.3 L553 428.4 L550.4 429.6 L547.7 430.7 L545 431.7 L542.3 432.8 L539.6 433.9 L536.9 434.9 L534.2 435.9 L531.5 437 L528.8 438 L526.1 438.9 L523.4 439.9 L520.6 440.8 L517.9 441.8 L515.2 442.7 L512.4 443.5 L509.7 444.4 L506.9 445.2 L504.1 446 L501.3 446.7 L498.6 447.5 L495.8 448.2 L493 448.8 L490.2 449.5 L487.4 450.1 L484.6 450.6 L481.7 451.2 L478.9 451.6 L476.1 452.1 L473.2 452.5 L470.4 452.9 L467.5 453.3 L464.7 453.7 L461.8 454 L459 454.3 L456.1 454.6 L453.2 454.9 L450.4 455.2 L447.5 455.4 L444.6 455.7 L441.7 455.9 L438.9 456.1 L436 456.3 L433.1 456.6 L430.2 456.8 L427.3 457 L424.5 457.2 L421.6 457.4 L418.7 457.6 L415.8 457.7 L412.9 457.9 L410 458.1 L407.2 458.2 L404.3 458.4 L401.4 458.5 L398.5 458.6 L395.6 458.7 L392.7 458.8 L389.9 458.9 L387 458.9 L384.1 458.9 L381.2 459 L378.3 458.9 L375.5 458.9 L372.6 458.9 L369.7 458.8 L366.8 458.7 L364 458.6 L361.1 458.4 L358.2 458.3 L355.3 458.1 L352.5 457.9 L349.6 457.6 L346.8 457.4 L343.9 457.1 L341 456.7 L338.2 456.4 L335.3 456 L332.5 455.6 L329.6 455.2 L326.8 454.8 L323.9 454.3 L321.1 453.9 L318.2 453.4 L315.4 452.9 L312.5 452.4 L309.7 451.8 L306.9 451.3 L304.1 450.7 L301.2 450.2 L298.4 449.6 L295.6 449 L292.8 448.4 L289.9 447.7 L287.1 447.1 L284.3 446.5 L281.5 445.8 L278.7 445.1 L275.9 444.4 L273.1 443.7 L270.3 443 L267.6 442.2 L264.8 441.5 L262 440.7 L259.2 440 L256.4 439.2 L253.7 438.4 L250.9 437.6 L248.1 436.7 L245.4 435.9 L242.6 435.1 L239.9 434.2 L237.1 433.3 L234.4 432.4 L231.7 431.5 L228.9 430.6 L226.2 429.7" stroke-opacity="0.45"/>
</g>
<g class="ax">
<path d="M91 3 V485"/>
<path d="M90 484 H685"/>
</g>
<g stroke="#000" stroke-width="2" fill="none">
<path d="M85.7 446 H91"/>
<path d="M80.8 407.5 H91"/>
<path d="M85.7 369 H91"/>
<path d="M80.8 330.5 H91"/>
<path d="M85.7 292 H91"/>
<path d="M80.8 253.5 H91"/>
<path d="M85.7 215 H91"/>
<path d="M80.8 176.5 H91"/>
<path d="M85.7 138 H91"/>
<path d="M80.8 99.5 H91"/>
<path d="M85.7 61 H91"/>
<path d="M80.8 22.5 H91"/>
<path d="M80.8 484 H91"/>
<path d="M107.3 484 V493.8"/>
<path d="M175.1 484 V489"/>
<path d="M242.9 484 V493.8"/>
<path d="M310.7 484 V489"/>
<path d="M378.5 484 V493.8"/>
<path d="M446.3 484 V489"/>
<path d="M514.1 484 V493.8"/>
<path d="M581.9 484 V489"/>
<path d="M649.7 484 V493.8"/>
</g>
<text class="tk" transform="translate(73.5 490.5) scale(0.955 1)" text-anchor="end">-80</text>
<text class="tk" transform="translate(73.5 414.4) scale(0.955 1)" text-anchor="end">-40</text>
<text class="tk" transform="translate(73.5 337.4) scale(0.955 1)" text-anchor="end">0</text>
<text class="tk" transform="translate(73.5 260.4) scale(0.955 1)" text-anchor="end">40</text>
<text class="tk" transform="translate(73.5 183.4) scale(0.955 1)" text-anchor="end">80</text>
<text class="tk" transform="translate(73.5 106.4) scale(0.955 1)" text-anchor="end">120</text>
<text class="tk" transform="translate(73.5 29.4) scale(0.955 1)" text-anchor="end">160</text>
<text class="tk" transform="translate(107.2 518.7) scale(0.955 1)" text-anchor="middle">0</text>
<text class="tk" transform="translate(242.8 518.7) scale(0.955 1)" text-anchor="middle">40</text>
<text class="tk" transform="translate(378.4 518.7) scale(0.955 1)" text-anchor="middle">80</text>
<text class="tk" transform="translate(514 518.7) scale(0.955 1)" text-anchor="middle">120</text>
<text class="tk" transform="translate(649.6 518.7) scale(0.955 1)" text-anchor="middle">160</text>
<text class="ti" x="278.5" y="551">Z<tspan dy="10.3" font-size="28.5">real,</tspan><tspan dy="-9.5" dx="4.3" font-size="27"> ohm cm</tspan><tspan dy="-8.5" dx="4.5" font-size="29">2</tspan></text>
<text class="tj" transform="translate(30 375) rotate(-90)"><tspan font-size="29">-Z</tspan><tspan dy="8" font-size="27">image,</tspan><tspan dy="-8"> ohm</tspan><tspan dx="2.7"> cm</tspan><tspan dy="-9.2">2</tspan></text>
<use href="#sk" x="114.7" y="18.1"/><use href="#hl" x="114.7" y="18.1"/>
<text class="lg" transform="translate(135.2 21.9) scale(0.912 1)">Blank</text>
<use href="#sr" x="114.7" y="36.7"/><use href="#hl" x="114.7" y="36.7"/>
<text class="lg" transform="translate(135.2 40.5) scale(0.912 1)">25 ppm</text>
<use href="#sb" x="114.7" y="55.2"/><use href="#hl" x="114.7" y="55.2"/>
<text class="lg" transform="translate(135.2 59) scale(0.912 1)">50 ppm</text>
<use href="#sm" x="114.7" y="73.8"/><use href="#hl" x="114.7" y="73.8"/>
<text class="lg" transform="translate(135.2 77.5) scale(0.912 1)">75 ppm</text>
<use href="#sg" x="114.7" y="92.3"/><use href="#hl" x="114.7" y="92.3"/>
<text class="lg" transform="translate(135.2 96.1) scale(0.912 1)">100 ppm</text>
<use href="#sn" x="114.7" y="110.8"/><use href="#hl" x="114.7" y="110.8"/>
<text class="lg" transform="translate(135.2 114.6) scale(0.912 1)">125 ppm</text>
<use href="#sp" x="116.1" y="129.5"/>
<text class="lg" transform="translate(135.2 133.2) scale(0.912 1)">150 ppm</text>
<path class="fit" d="M97.8 147.9 H130"/>
<text class="lg" transform="translate(135.2 152.2) scale(0.912 1)">Fitting Curves</text>
<path class="ar" d="M144.8 239.5 V314.5"/>
<use href="#ah" x="144.8" y="233.5"/>
<path class="ar" d="M190.3 210.3 V286"/>
<use href="#ah" x="190.3" y="204.3"/>
<path class="ar" d="M231 190.9 V275.2"/>
<use href="#ah" x="231" y="184.9"/>
<path class="ar" d="M400.3 168.4 V216"/>
<use href="#ah" x="400.3" y="162.4"/>
<path class="ar" d="M473.6 179.2 V212.3"/>
<use href="#ah" x="473.6" y="173.2"/>
<path class="ar" d="M545.4 181.6 V205.3"/>
<use href="#ah" x="545.4" y="175.6"/>
<path class="ar" d="M291.2 263.9 L327.3 251"/>
<use href="#ah" transform="translate(332.3 249.2) rotate(70.3)"/>
<text class="an" transform="translate(98.5 226) scale(0.95 1)">37.47 KHz</text>
<text class="an" transform="translate(160.8 201.2) scale(0.95 1)">17.2 Hz</text>
<text class="an" transform="translate(209.7 179.7) scale(0.95 1)">11.2 Hz</text>
<text class="an" transform="translate(334.8 250.4) scale(0.95 1)">9.7 Hz</text>
<text class="an" transform="translate(375.9 157) scale(0.95 1)">6.7 Hz</text>
<text class="an" transform="translate(453.7 163.7) scale(0.95 1)">3.6 Hz</text>
<text class="an" transform="translate(517.2 169.4) scale(0.95 1)">3.6 Hz</text>
</svg>
</body></html>
